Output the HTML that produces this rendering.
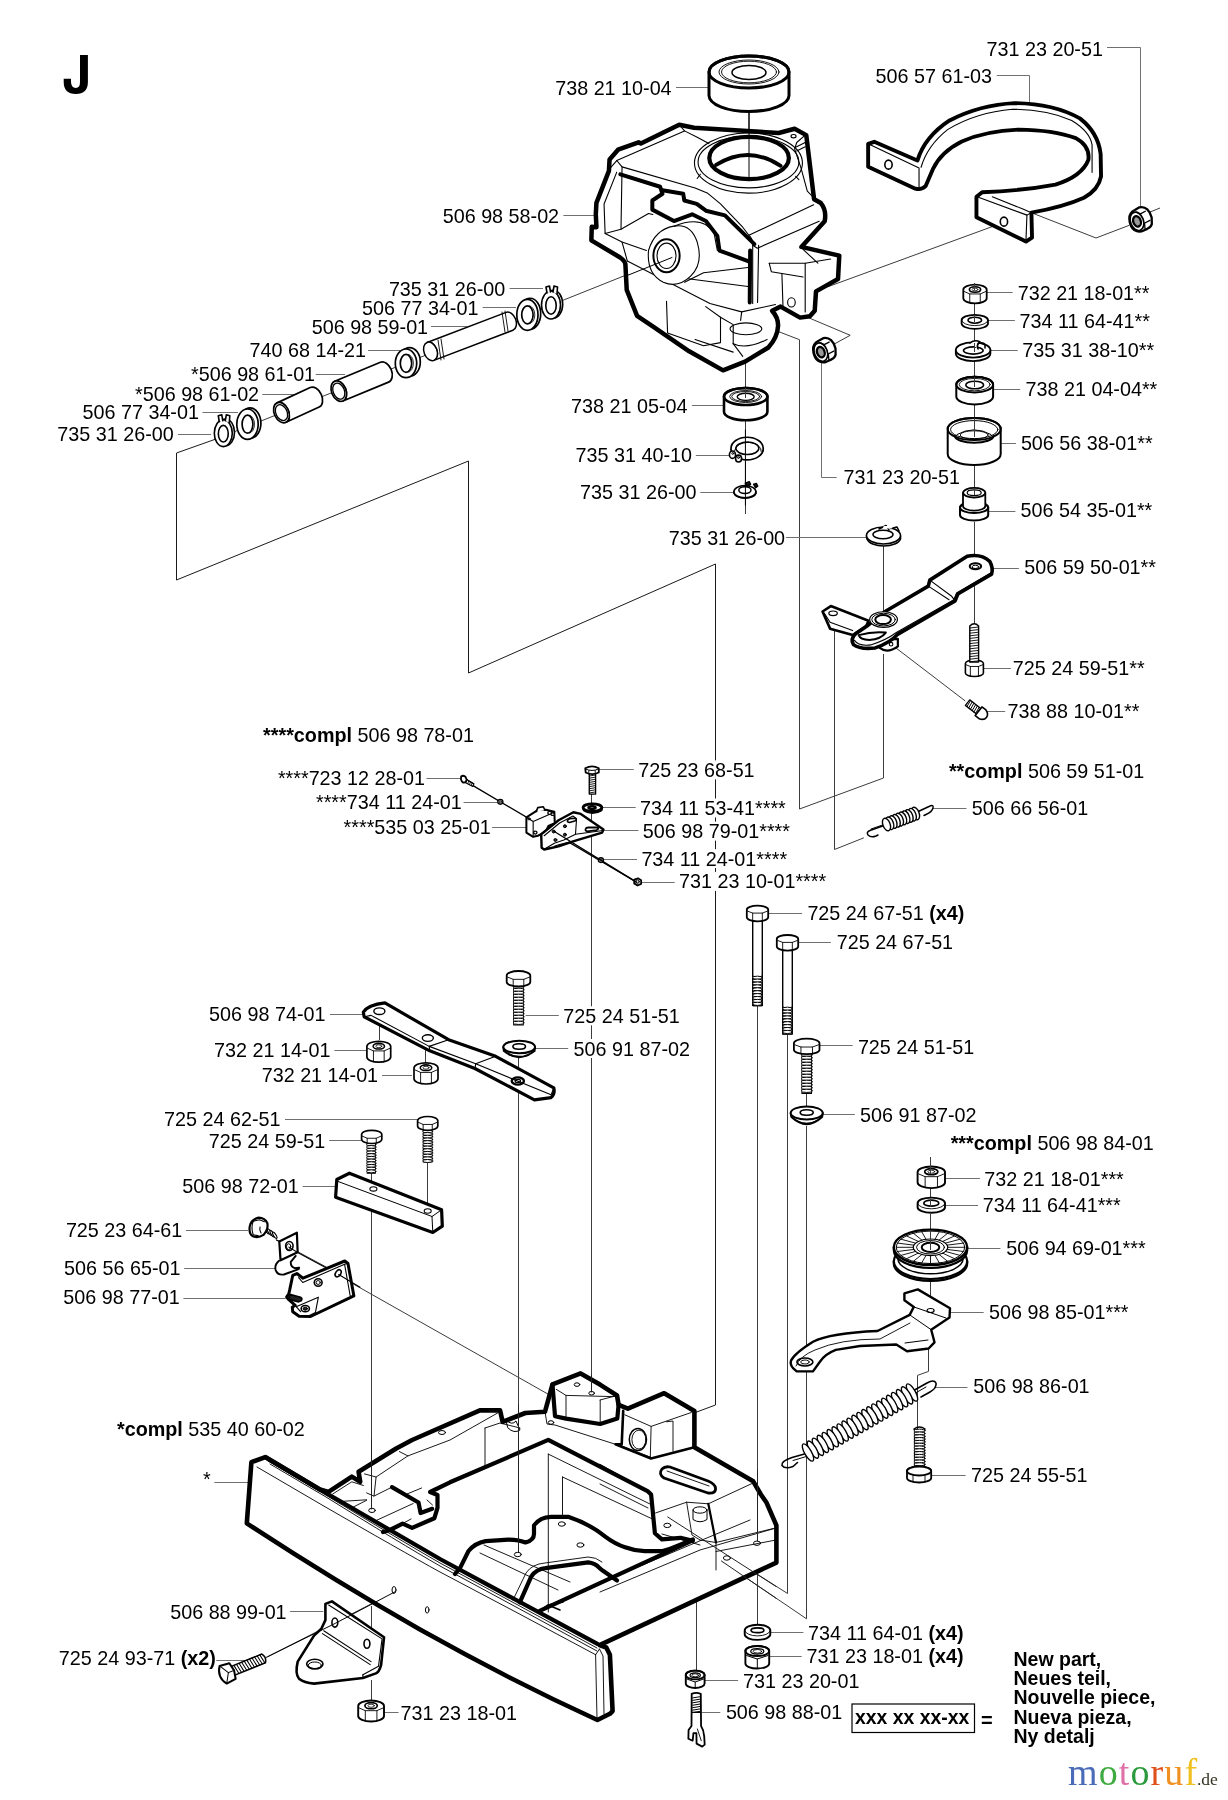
<!DOCTYPE html>
<html><head><meta charset="utf-8"><style>
html,body{margin:0;padding:0;background:#fff;}
svg{display:block;will-change:transform;}
text{font-family:"Liberation Sans",sans-serif;fill:#000;}
</style></head><body>
<svg width="1228" height="1800" viewBox="0 0 1228 1800">
<rect width="1228" height="1800" fill="#fff"/>

<g fill="none" stroke="#3c3c3c" stroke-width="1">
<polyline points="276.0,1240.0 328.0,1268.0"/>
<polyline points="670.0,257.5 216.0,439.0"/>
<polyline points="216.0,439.0 176.5,453.0 176.5,580.0 468.5,461.0 468.5,673.0 715.5,564.0 715.5,1405.0 694.0,1413.0" stroke="#1a1a1a"/>
<polyline points="755.7,322.8 799.5,339.7 799.5,809.0 883.5,778.0 883.5,654.0"/>
<polyline points="883.5,545.0 883.5,613.0"/>
<polyline points="808.5,317.7 850.2,335.3 834.1,344.1"/>
<polyline points="827.5,286.9 1004.3,222.2"/>
<polyline points="1029.6,212.0 1096.0,238.0 1129.0,225.4"/>
<polyline points="1150.0,212.0 1160.0,208.0"/>
<polyline points="745.5,363.0 745.5,388.0"/>
<polyline points="745.5,420.0 745.5,438.0"/>
<polyline points="745.5,462.0 745.5,481.0"/>
<polyline points="745.5,498.0 745.5,514.0"/>
<polyline points="974.5,303.0 974.5,315.0"/>
<polyline points="974.5,328.0 974.5,342.0"/>
<polyline points="974.5,360.0 974.5,377.0"/>
<polyline points="974.5,405.0 974.5,420.0"/>
<polyline points="974.5,465.0 974.5,489.0"/>
<polyline points="974.5,522.0 974.5,560.0"/>
<polyline points="974.5,578.0 974.5,624.0"/>
<polyline points="834.5,628.3 834.5,849.5 863.9,837.8"/>
<polyline points="892.6,645.4 965.3,701.0"/>
<polyline points="591.5,794.0 591.5,803.0"/>
<polyline points="591.5,813.0 591.5,1393.0"/>
<polyline points="757.5,1005.0 757.5,1625.0"/>
<polyline points="787.5,1035.0 787.5,1593.5 667.7,1517.0"/>
<polyline points="806.5,1093.0 806.5,1106.0"/>
<polyline points="806.5,1126.0 806.5,1618.8 721.4,1561.0"/>
<polyline points="930.5,1157.0 930.5,1166.0"/>
<polyline points="930.5,1188.0 930.5,1197.0"/>
<polyline points="930.5,1214.0 930.5,1230.0"/>
<polyline points="930.5,1280.0 930.5,1300.0"/>
<polyline points="928.5,1348.0 928.5,1371.4 917.5,1375.4 917.5,1429.0"/>
<polyline points="518.5,1058.0 518.5,1075.0"/>
<polyline points="518.5,1088.0 518.5,1554.0"/>
<polyline points="371.5,1173.0 371.5,1186.0"/>
<polyline points="371.5,1200.0 371.5,1509.0"/>
<polyline points="371.5,1606.0 371.5,1628.0"/>
<polyline points="371.5,1680.0 371.5,1700.0"/>
<polyline points="267.6,1656.8 395.4,1591.6"/>
<polyline points="427.5,1162.0 427.5,1206.0"/>
<polyline points="353.0,1283.8 551.7,1396.2"/>
<polyline points="696.5,1601.7 696.5,1670.0"/>
<polyline points="379.5,1020.0 379.5,1040.0"/>
<polyline points="425.5,1045.0 425.5,1063.0"/>
</g>
<g fill="none" stroke="#707070" stroke-width="1">
<polyline points="676.0,87.5 708.5,87.5"/>
<polyline points="1107.0,47.5 1140.5,47.5 1140.5,208.0"/>
<polyline points="996.8,75.5 1029.5,75.5 1029.5,102.0"/>
<polyline points="563.4,215.5 594.4,215.5"/>
<polyline points="509.6,288.5 543.0,288.5"/>
<polyline points="482.7,307.5 516.0,307.5"/>
<polyline points="431.0,326.5 467.5,326.5"/>
<polyline points="368.0,350.5 400.0,350.5"/>
<polyline points="315.3,374.5 345.0,374.5"/>
<polyline points="262.3,394.5 294.0,394.5"/>
<polyline points="202.5,412.5 238.0,412.5"/>
<polyline points="178.0,434.5 211.0,434.5"/>
<polyline points="691.9,405.5 724.0,405.5"/>
<polyline points="695.8,455.5 730.0,455.5"/>
<polyline points="700.3,492.5 734.0,492.5"/>
<polyline points="786.0,537.5 867.6,537.5"/>
<polyline points="821.5,362.0 821.5,477.5 836.7,477.5"/>
<polyline points="986.8,292.5 1012.7,292.5"/>
<polyline points="987.8,320.5 1014.9,320.5"/>
<polyline points="990.6,350.5 1017.7,350.5"/>
<polyline points="993.4,389.5 1020.2,389.5"/>
<polyline points="1001.3,443.5 1016.0,443.5"/>
<polyline points="988.6,511.5 1015.4,511.5"/>
<polyline points="992.5,568.5 1018.9,568.5"/>
<polyline points="983.3,668.5 1010.9,668.5"/>
<polyline points="986.7,711.5 1005.2,711.5"/>
<polyline points="426.5,778.5 461.3,778.5"/>
<polyline points="463.6,802.5 497.8,802.5"/>
<polyline points="492.1,827.5 526.3,827.5"/>
<polyline points="599.4,769.5 633.8,769.5"/>
<polyline points="602.1,807.5 635.7,807.5"/>
<polyline points="603.5,830.5 638.4,830.5"/>
<polyline points="603.5,859.5 637.0,859.5"/>
<polyline points="641.1,882.5 674.7,882.5"/>
<polyline points="933.2,808.5 966.5,808.5"/>
<polyline points="768.3,913.5 802.1,913.5"/>
<polyline points="798.2,942.5 830.9,942.5"/>
<polyline points="330.0,1014.5 362.9,1014.5"/>
<polyline points="334.4,1050.5 366.9,1050.5"/>
<polyline points="382.0,1075.5 412.0,1075.5"/>
<polyline points="525.6,1015.5 558.8,1015.5"/>
<polyline points="535.0,1048.5 568.2,1048.5"/>
<polyline points="819.6,1045.5 852.7,1045.5"/>
<polyline points="822.7,1114.5 854.9,1114.5"/>
<polyline points="285.0,1119.5 419.6,1119.5"/>
<polyline points="329.2,1140.5 361.6,1140.5"/>
<polyline points="302.7,1186.5 335.6,1186.5"/>
<polyline points="945.0,1178.5 979.9,1178.5"/>
<polyline points="945.0,1205.5 978.0,1205.5"/>
<polyline points="966.6,1248.5 1000.4,1248.5"/>
<polyline points="951.1,1312.5 983.7,1312.5"/>
<polyline points="186.0,1230.5 248.0,1230.5"/>
<polyline points="184.2,1268.5 276.7,1268.5"/>
<polyline points="183.4,1298.5 285.8,1298.5"/>
<polyline points="934.5,1387.5 967.5,1387.5"/>
<polyline points="931.2,1475.5 965.6,1475.5"/>
<polyline points="214.3,1482.5 248.5,1482.5"/>
<polyline points="290.1,1611.5 323.3,1611.5"/>
<polyline points="215.7,1660.5 245.4,1660.5"/>
<polyline points="384.0,1712.5 398.6,1712.5"/>
<polyline points="770.4,1632.5 803.4,1632.5"/>
<polyline points="769.2,1656.5 801.7,1656.5"/>
<polyline points="704.4,1680.5 738.1,1680.5"/>
<polyline points="702.0,1712.5 720.3,1712.5"/>
</g>
<path d="M 749.00,112.00 L 749.00,176.00" fill="none" stroke="#000" stroke-width="1.0" stroke-linejoin="round" stroke-linecap="round"/>
<path d="M 709.00,72.00 L 709.00,95.50 A 40.00,16.00 0 0 0 789.00,95.50 L 789.00,72.00 A 40.00,16.00 0 0 0 709.00,72.00 Z" fill="#fff" stroke="#000" stroke-width="3.0" stroke-linejoin="round" stroke-linecap="round"/><ellipse cx="749.00" cy="72.00" rx="40.00" ry="16.00" fill="none" stroke="#000" stroke-width="3.0" stroke-linejoin="round" stroke-linecap="round"/>
<ellipse cx="749.00" cy="72.00" rx="30.00" ry="12.00" fill="none" stroke="#000" stroke-width="0.9" stroke-linejoin="round" stroke-linecap="round"/><ellipse cx="749.00" cy="72.00" rx="27.50" ry="10.80" fill="none" stroke="#000" stroke-width="0.9" stroke-linejoin="round" stroke-linecap="round"/><ellipse cx="749.00" cy="72.50" rx="17.00" ry="7.00" fill="none" stroke="#000" stroke-width="1.5" stroke-linejoin="round" stroke-linecap="round"/>
<g transform="translate(585,115) scale(0.211726)"><path d="M 445,46 L 264,135 L 253,129 L 156,164 L 116,210 L 113,264 L 54,415 L 51,468 L 54,530 L 32,528 L 30,592 L 166,673 Q 191,690 191,709 L 197,826 L 246,949 L 320,998 L 492,1116 L 652,1206 L 756,1165 L 866,1098 Q 910,1050 912,994 Q 912,955 884,925 L 924,905 L 1016,957 L 1062,951 L 1085,925 L 1091,833 L 1195,775 L 1201,664 L 1022,623 L 1132,502 Q 1142,450 1114,416 L 1082,398 L 1045,95 L 990,65 L 915,85 L 515,60 Z" fill="#fff" stroke="#000" stroke-width="4.5" stroke-linejoin="round" stroke-linecap="round" vector-effect="non-scaling-stroke"/><path d="M 445,46 L 470,75 L 150,215 L 120,250" fill="none" stroke="#000" stroke-width="1.1" stroke-linejoin="round" stroke-linecap="round" vector-effect="non-scaling-stroke"/><path d="M 470,75 L 530,105 L 585,135" fill="none" stroke="#000" stroke-width="1.1" stroke-linejoin="round" stroke-linecap="round" vector-effect="non-scaling-stroke"/><path d="M 150,215 L 175,245 L 520,345 L 580,370 L 640,420 L 745,530 L 774,568 Q 792,585 792,610 L 792,890" fill="none" stroke="#000" stroke-width="1.1" stroke-linejoin="round" stroke-linecap="round" vector-effect="non-scaling-stroke"/><path d="M 175,245 L 170,540 L 95,560 L 90,420 L 150,270" fill="none" stroke="#000" stroke-width="1.1" stroke-linejoin="round" stroke-linecap="round" vector-effect="non-scaling-stroke"/><path d="M 170,540 L 300,465 L 320,470" fill="none" stroke="#000" stroke-width="1.1" stroke-linejoin="round" stroke-linecap="round" vector-effect="non-scaling-stroke"/><path d="M 95,560 L 175,600 L 290,640" fill="none" stroke="#000" stroke-width="1.1" stroke-linejoin="round" stroke-linecap="round" vector-effect="non-scaling-stroke"/><path d="M 175,600 L 200,690" fill="none" stroke="#000" stroke-width="1.1" stroke-linejoin="round" stroke-linecap="round" vector-effect="non-scaling-stroke"/><path d="M 774,568 L 1080,424" fill="none" stroke="#000" stroke-width="1.1" stroke-linejoin="round" stroke-linecap="round" vector-effect="non-scaling-stroke"/><path d="M 1040,95 L 1000,130 L 990,160 L 1020,250 L 1050,360 L 1080,390" fill="none" stroke="#000" stroke-width="1.1" stroke-linejoin="round" stroke-linecap="round" vector-effect="non-scaling-stroke"/><path d="M 990,155 L 1040,130 M 1000,170 L 1040,150" fill="none" stroke="#000" stroke-width="1.1" stroke-linejoin="round" stroke-linecap="round" vector-effect="non-scaling-stroke"/><path d="M 792,615 L 814,629 L 1106,502" fill="none" stroke="#000" stroke-width="1.1" stroke-linejoin="round" stroke-linecap="round" vector-effect="non-scaling-stroke"/><path d="M 820,615 L 815,885" fill="none" stroke="#000" stroke-width="1.1" stroke-linejoin="round" stroke-linecap="round" vector-effect="non-scaling-stroke"/><path d="M 470,790 L 560,745 L 770,720" fill="none" stroke="#000" stroke-width="1.1" stroke-linejoin="round" stroke-linecap="round" vector-effect="non-scaling-stroke"/><path d="M 460,770 L 770,810" fill="none" stroke="#000" stroke-width="1.1" stroke-linejoin="round" stroke-linecap="round" vector-effect="non-scaling-stroke"/><path d="M 200,690 L 590,890 L 740,930 L 900,895" fill="none" stroke="#000" stroke-width="1.1" stroke-linejoin="round" stroke-linecap="round" vector-effect="non-scaling-stroke"/><path d="M 740,930 L 735,970" fill="none" stroke="#000" stroke-width="1.1" stroke-linejoin="round" stroke-linecap="round" vector-effect="non-scaling-stroke"/><path d="M 870,700 L 1040,700 L 1040,930" fill="none" stroke="#000" stroke-width="1.1" stroke-linejoin="round" stroke-linecap="round" vector-effect="non-scaling-stroke"/><path d="M 870,700 L 880,740 L 1030,765" fill="none" stroke="#000" stroke-width="1.1" stroke-linejoin="round" stroke-linecap="round" vector-effect="non-scaling-stroke"/><path d="M 930,750 L 935,900" fill="none" stroke="#000" stroke-width="1.1" stroke-linejoin="round" stroke-linecap="round" vector-effect="non-scaling-stroke"/><path d="M 1040,700 L 1160,680" fill="none" stroke="#000" stroke-width="1.1" stroke-linejoin="round" stroke-linecap="round" vector-effect="non-scaling-stroke"/><path d="M 1030,635 L 1100,700" fill="none" stroke="#000" stroke-width="1.1" stroke-linejoin="round" stroke-linecap="round" vector-effect="non-scaling-stroke"/><path d="M 385,880 L 390,1030 L 560,1090 L 640,1075 L 640,955 L 570,905" fill="none" stroke="#000" stroke-width="1.1" stroke-linejoin="round" stroke-linecap="round" vector-effect="non-scaling-stroke"/><path d="M 640,955 L 700,990 L 700,1080" fill="none" stroke="#000" stroke-width="1.1" stroke-linejoin="round" stroke-linecap="round" vector-effect="non-scaling-stroke"/><path d="M 700,1080 L 745,1140" fill="none" stroke="#000" stroke-width="1.1" stroke-linejoin="round" stroke-linecap="round" vector-effect="non-scaling-stroke"/><path d="M 520,1060 L 700,1120" fill="none" stroke="#000" stroke-width="1.1" stroke-linejoin="round" stroke-linecap="round" vector-effect="non-scaling-stroke"/><path d="M 167,280 L 355,339 L 366,372 L 318,404 L 318,447 L 420,501 L 506,469 L 571,501 L 625,571 L 635,640 L 770,690" fill="none" stroke="#000" stroke-width="4.0" stroke-linejoin="round" stroke-linecap="round" vector-effect="non-scaling-stroke"/><path d="M 366,355 L 464,372 L 469,404 L 528,420 L 571,452 L 661,474 L 800,610" fill="none" stroke="#000" stroke-width="4.0" stroke-linejoin="round" stroke-linecap="round" vector-effect="non-scaling-stroke"/><path d="M 780,640 L 778,885" fill="none" stroke="#000" stroke-width="4.0" stroke-linejoin="round" stroke-linecap="round" vector-effect="non-scaling-stroke"/><ellipse cx="772" cy="227" rx="255" ry="142" fill="none" stroke="#000" stroke-width="1.1" stroke-linejoin="round" stroke-linecap="round" vector-effect="non-scaling-stroke"/><ellipse cx="772" cy="222" rx="238" ry="122" fill="none" stroke="#000" stroke-width="1.1" stroke-linejoin="round" stroke-linecap="round" vector-effect="non-scaling-stroke"/><path d="M 545,280 L 530,300 M 995,290 L 1010,305" fill="none" stroke="#000" stroke-width="1.1" stroke-linejoin="round" stroke-linecap="round" vector-effect="non-scaling-stroke"/><ellipse cx="775" cy="203" rx="188" ry="100" fill="none" stroke="#000" stroke-width="4.2" stroke-linejoin="round" stroke-linecap="round" vector-effect="non-scaling-stroke"/><path d="M 619,236 Q 772,140 924,240" fill="none" stroke="#000" stroke-width="3.8" stroke-linejoin="round" stroke-linecap="round" vector-effect="non-scaling-stroke"/><ellipse cx="985" cy="100" rx="12" ry="8" fill="none" stroke="#000" stroke-width="1.1" stroke-linejoin="round" stroke-linecap="round" vector-effect="non-scaling-stroke"/><path d="M 300,640 Q 330,540 420,525 Q 500,510 530,600 Q 560,700 500,760 Q 440,820 370,790 Q 290,750 300,640 Z" fill="#fff" stroke="#000" stroke-width="1.1" stroke-linejoin="round" stroke-linecap="round" vector-effect="non-scaling-stroke"/><ellipse cx="385" cy="665" rx="62" ry="78" fill="none" stroke="#000" stroke-width="2.0" stroke-linejoin="round" stroke-linecap="round" vector-effect="non-scaling-stroke"/><ellipse cx="385" cy="665" rx="45" ry="60" fill="none" stroke="#000" stroke-width="1.1" stroke-linejoin="round" stroke-linecap="round" vector-effect="non-scaling-stroke"/><path d="M 420,525 Q 560,470 610,560 L 625,640" fill="none" stroke="#000" stroke-width="1.1" stroke-linejoin="round" stroke-linecap="round" vector-effect="non-scaling-stroke"/><ellipse cx="760" cy="1010" rx="75" ry="28" fill="none" stroke="#000" stroke-width="1.1" stroke-linejoin="round" stroke-linecap="round" vector-effect="non-scaling-stroke"/><path d="M 700,1080 Q 760,1110 860,1060" fill="none" stroke="#000" stroke-width="1.1" stroke-linejoin="round" stroke-linecap="round" vector-effect="non-scaling-stroke"/><ellipse cx="975" cy="885" rx="18" ry="22" fill="none" stroke="#000" stroke-width="1.1" stroke-linejoin="round" stroke-linecap="round" vector-effect="non-scaling-stroke"/></g>
<path d="M 749.00,113.00 L 749.00,177.00" fill="none" stroke="#000" stroke-width="1.0" stroke-linejoin="round" stroke-linecap="round"/>
<path d="M 626.00,276.00 L 672.00,257.50" fill="none" stroke="#000" stroke-width="1.0" stroke-linejoin="round" stroke-linecap="round"/>
<g transform="translate(860,95) scale(0.203583)"><path d="M 40,240 L 70,230 L 282,322 Q 318,205 440,125 Q 590,48 760,40 Q 950,42 1080,115 Q 1170,185 1182,290 L 1184,400 Q 1172,465 1100,505 Q 1000,550 842,578 L 845,700 L 815,720 L 572,600 L 572,500 L 600,478 Q 800,470 960,440 Q 1090,400 1122,318 Q 1130,250 1060,212 Q 950,172 780,170 Q 620,176 500,228 Q 400,278 360,360 L 322,448 Q 302,468 272,460 L 40,352 Z" fill="#fff" stroke="#000" stroke-width="3.9" stroke-linejoin="round" stroke-linecap="round" vector-effect="non-scaling-stroke"/><path d="M 300,355 Q 330,250 430,170 Q 570,85 750,70 Q 920,72 1040,125 Q 1130,180 1140,245 L 1140,380" fill="none" stroke="#000" stroke-width="1.1" stroke-linejoin="round" stroke-linecap="round" vector-effect="non-scaling-stroke"/><path d="M 40,240 L 290,358 L 290,458" fill="none" stroke="#000" stroke-width="1.1" stroke-linejoin="round" stroke-linecap="round" vector-effect="non-scaling-stroke"/><path d="M 575,500 L 820,590 L 842,578" fill="none" stroke="#000" stroke-width="1.1" stroke-linejoin="round" stroke-linecap="round" vector-effect="non-scaling-stroke"/><path d="M 820,590 L 815,720" fill="none" stroke="#000" stroke-width="1.1" stroke-linejoin="round" stroke-linecap="round" vector-effect="non-scaling-stroke"/><path d="M 650,500 L 800,560 L 842,578" fill="none" stroke="#000" stroke-width="1.1" stroke-linejoin="round" stroke-linecap="round" vector-effect="non-scaling-stroke"/><ellipse cx="140" cy="342" rx="18" ry="22" fill="none" stroke="#000" stroke-width="1.6" stroke-linejoin="round" stroke-linecap="round" vector-effect="non-scaling-stroke"/><ellipse cx="707" cy="622" rx="18" ry="22" fill="none" stroke="#000" stroke-width="1.6" stroke-linejoin="round" stroke-linecap="round" vector-effect="non-scaling-stroke"/></g>
<g transform="translate(1121.2,199.2) scale(0.032573)"><path d="M 250,600 Q 240,420 420,330 L 560,250 Q 700,220 800,310 Q 900,400 935,560 L 940,760 Q 920,850 800,910 L 620,990 Q 450,1010 350,900 Q 260,790 250,600 Z" fill="#fff" stroke="#000" stroke-width="2.3" stroke-linejoin="round" stroke-linecap="round" vector-effect="non-scaling-stroke"/><ellipse cx="485" cy="680" rx="200" ry="290" transform="rotate(-20 485 680)" fill="none" stroke="#000" stroke-width="1.7" stroke-linejoin="round" stroke-linecap="round" vector-effect="non-scaling-stroke"/><ellipse cx="485" cy="680" rx="115" ry="165" transform="rotate(-20 485 680)" fill="#9a9a9a" stroke="#000" stroke-width="2.3" stroke-linejoin="round" stroke-linecap="round" vector-effect="non-scaling-stroke"/><path d="M 460,395 L 590,450 L 740,370 M 700,745 L 880,650 M 720,760 L 730,900" fill="none" stroke="#000" stroke-width="1.3" stroke-linejoin="round" stroke-linecap="round" vector-effect="non-scaling-stroke"/></g>
<g transform="translate(805,330) scale(0.032573)"><path d="M 250,600 Q 240,420 420,330 L 560,250 Q 700,220 800,310 Q 900,400 935,560 L 940,760 Q 920,850 800,910 L 620,990 Q 450,1010 350,900 Q 260,790 250,600 Z" fill="#fff" stroke="#000" stroke-width="2.3" stroke-linejoin="round" stroke-linecap="round" vector-effect="non-scaling-stroke"/><ellipse cx="485" cy="680" rx="200" ry="290" transform="rotate(-20 485 680)" fill="none" stroke="#000" stroke-width="1.7" stroke-linejoin="round" stroke-linecap="round" vector-effect="non-scaling-stroke"/><ellipse cx="485" cy="680" rx="115" ry="165" transform="rotate(-20 485 680)" fill="#9a9a9a" stroke="#000" stroke-width="2.3" stroke-linejoin="round" stroke-linecap="round" vector-effect="non-scaling-stroke"/><path d="M 460,395 L 590,450 L 740,370 M 700,745 L 880,650 M 720,760 L 730,900" fill="none" stroke="#000" stroke-width="1.3" stroke-linejoin="round" stroke-linecap="round" vector-effect="non-scaling-stroke"/></g>
<ellipse cx="553.20" cy="304.20" rx="9.50" ry="14.00" fill="#fff" stroke="#000" stroke-width="1.6" stroke-linejoin="round" stroke-linecap="round"/><ellipse cx="551.00" cy="305.00" rx="9.50" ry="14.00" fill="#fff" stroke="#000" stroke-width="1.6" stroke-linejoin="round" stroke-linecap="round"/><ellipse cx="551.00" cy="305.50" rx="5.23" ry="8.68" fill="none" stroke="#000" stroke-width="1.6" stroke-linejoin="round" stroke-linecap="round"/><path d="M 547.0,293.0 L 546.0,287.0 L 549.5,286.0 L 550.5,292.0" fill="#fff" stroke="#000" stroke-width="1.6" stroke-linejoin="round" stroke-linecap="round"/><path d="M 553.0,292.0 L 554.0,286.0 L 557.5,287.0 L 557.0,294.0" fill="#fff" stroke="#000" stroke-width="1.6" stroke-linejoin="round" stroke-linecap="round"/>
<ellipse cx="530.10" cy="313.75" rx="10.60" ry="15.50" fill="#fff" stroke="#000" stroke-width="1.7" stroke-linejoin="round" stroke-linecap="round"/><ellipse cx="527.40" cy="314.80" rx="10.60" ry="15.50" fill="#fff" stroke="#000" stroke-width="1.7" stroke-linejoin="round" stroke-linecap="round"/><ellipse cx="527.40" cy="314.80" rx="5.70" ry="9.00" fill="#fff" stroke="#000" stroke-width="1.7" stroke-linejoin="round" stroke-linecap="round"/><path d="M 529.11,305.80 A 5.7,9 0 0 1 529.11,323.80" fill="none" stroke="#000" stroke-width="0.8" stroke-linejoin="round" stroke-linecap="round"/>
<path d="M 433.92,360.37 L 512.92,330.27 A 6.5,9.6 -20.86 0 0 506.08,312.33 L 427.08,342.43 A 6.5,9.6 -20.86 0 1 433.92,360.37 Z" fill="#fff" stroke="#000" stroke-width="1.5" stroke-linejoin="round" stroke-linecap="round"/><ellipse cx="430.50" cy="351.40" rx="6.50" ry="9.60" fill="#fff" stroke="#000" stroke-width="1.5" stroke-linejoin="round" stroke-linecap="round" transform="rotate(-20.857473924379892 430.5 351.4)"/>
<path d="M 438.00,340.00 L 441.00,360.00" fill="none" stroke="#000" stroke-width="0.9" stroke-linejoin="round" stroke-linecap="round"/><path d="M 441.00,339.00 L 444.00,359.00" fill="none" stroke="#000" stroke-width="0.9" stroke-linejoin="round" stroke-linecap="round"/>
<path d="M 502.00,312.00 L 505.00,332.00" fill="none" stroke="#000" stroke-width="0.9" stroke-linejoin="round" stroke-linecap="round"/><path d="M 505.00,311.00 L 508.00,331.00" fill="none" stroke="#000" stroke-width="0.9" stroke-linejoin="round" stroke-linecap="round"/>
<ellipse cx="409.60" cy="361.90" rx="10.70" ry="14.30" fill="#fff" stroke="#000" stroke-width="1.7" stroke-linejoin="round" stroke-linecap="round"/><ellipse cx="406.00" cy="363.30" rx="10.70" ry="14.30" fill="#fff" stroke="#000" stroke-width="1.7" stroke-linejoin="round" stroke-linecap="round"/><ellipse cx="406.00" cy="363.30" rx="5.70" ry="9.00" fill="#fff" stroke="#000" stroke-width="1.7" stroke-linejoin="round" stroke-linecap="round"/><path d="M 407.71,354.30 A 5.7,9 0 0 1 407.71,372.30" fill="none" stroke="#000" stroke-width="0.8" stroke-linejoin="round" stroke-linecap="round"/>
<path d="M 342.89,400.99 L 388.59,382.09 A 7.2,10.7 -22.47 0 0 380.41,362.31 L 334.71,381.21 A 7.2,10.7 -22.47 0 1 342.89,400.99 Z" fill="#fff" stroke="#000" stroke-width="1.7" stroke-linejoin="round" stroke-linecap="round"/><ellipse cx="338.80" cy="391.10" rx="7.20" ry="10.70" fill="#fff" stroke="#000" stroke-width="1.7" stroke-linejoin="round" stroke-linecap="round" transform="rotate(-22.46835989569225 338.8 391.1)"/><ellipse cx="338.80" cy="391.10" rx="5.62" ry="8.35" fill="none" stroke="#000" stroke-width="1.36" stroke-linejoin="round" stroke-linecap="round" transform="rotate(-22.46835989569225 338.8 391.1)"/>
<path d="M 285.98,422.32 L 319.18,407.02 A 7.2,10.7 -24.74 0 0 310.22,387.58 L 277.02,402.88 A 7.2,10.7 -24.74 0 1 285.98,422.32 Z" fill="#fff" stroke="#000" stroke-width="1.7" stroke-linejoin="round" stroke-linecap="round"/><ellipse cx="281.50" cy="412.60" rx="7.20" ry="10.70" fill="#fff" stroke="#000" stroke-width="1.7" stroke-linejoin="round" stroke-linecap="round" transform="rotate(-24.74230004156487 281.5 412.6)"/><ellipse cx="281.50" cy="412.60" rx="5.62" ry="8.35" fill="none" stroke="#000" stroke-width="1.36" stroke-linejoin="round" stroke-linecap="round" transform="rotate(-24.74230004156487 281.5 412.6)"/>
<ellipse cx="250.20" cy="423.15" rx="10.70" ry="15.20" fill="#fff" stroke="#000" stroke-width="1.7" stroke-linejoin="round" stroke-linecap="round"/><ellipse cx="247.50" cy="424.20" rx="10.70" ry="15.20" fill="#fff" stroke="#000" stroke-width="1.7" stroke-linejoin="round" stroke-linecap="round"/><ellipse cx="247.50" cy="424.20" rx="5.40" ry="9.00" fill="#fff" stroke="#000" stroke-width="1.7" stroke-linejoin="round" stroke-linecap="round"/><path d="M 249.12,415.20 A 5.4,9 0 0 1 249.12,433.20" fill="none" stroke="#000" stroke-width="0.8" stroke-linejoin="round" stroke-linecap="round"/>
<ellipse cx="225.50" cy="432.40" rx="9.00" ry="13.40" fill="#fff" stroke="#000" stroke-width="1.6" stroke-linejoin="round" stroke-linecap="round"/><ellipse cx="223.30" cy="433.20" rx="9.00" ry="13.40" fill="#fff" stroke="#000" stroke-width="1.6" stroke-linejoin="round" stroke-linecap="round"/><ellipse cx="223.30" cy="433.70" rx="4.95" ry="8.31" fill="none" stroke="#000" stroke-width="1.6" stroke-linejoin="round" stroke-linecap="round"/><path d="M 219.3,421.8 L 218.3,415.8 L 221.8,414.8 L 222.8,420.8" fill="#fff" stroke="#000" stroke-width="1.6" stroke-linejoin="round" stroke-linecap="round"/><path d="M 225.3,420.8 L 226.3,414.8 L 229.8,415.8 L 229.3,422.8" fill="#fff" stroke="#000" stroke-width="1.6" stroke-linejoin="round" stroke-linecap="round"/>
<path d="M 724.00,396.50 L 724.00,411.80 A 21.70,8.50 0 0 0 767.40,411.80 L 767.40,396.50 A 21.70,8.50 0 0 0 724.00,396.50 Z" fill="#fff" stroke="#000" stroke-width="2.6" stroke-linejoin="round" stroke-linecap="round"/><ellipse cx="745.70" cy="396.50" rx="21.70" ry="8.50" fill="none" stroke="#000" stroke-width="2.6" stroke-linejoin="round" stroke-linecap="round"/>
<ellipse cx="745.70" cy="396.50" rx="16.00" ry="6.00" fill="none" stroke="#000" stroke-width="0.9" stroke-linejoin="round" stroke-linecap="round"/><ellipse cx="745.70" cy="396.50" rx="14.00" ry="5.00" fill="none" stroke="#000" stroke-width="0.9" stroke-linejoin="round" stroke-linecap="round"/><ellipse cx="745.70" cy="396.80" rx="8.50" ry="3.60" fill="none" stroke="#000" stroke-width="1.4" stroke-linejoin="round" stroke-linecap="round"/>
<g transform="translate(720,430) scale(0.048860)"><path d="M 230,400 A 330,220 0 0 0 880,420 L 885,400 A 330,232 0 0 0 230,400 Z" fill="#fff" stroke="#000" stroke-width="1.7" stroke-linejoin="round" stroke-linecap="round" vector-effect="non-scaling-stroke"/><ellipse cx="555" cy="380" rx="330" ry="232" fill="#fff" stroke="#000" stroke-width="1.7" stroke-linejoin="round" stroke-linecap="round" vector-effect="non-scaling-stroke"/><ellipse cx="560" cy="375" rx="235" ry="128" fill="#fff" stroke="#000" stroke-width="1.5" stroke-linejoin="round" stroke-linecap="round" vector-effect="non-scaling-stroke"/><path d="M 300,420 A 262,170 0 0 1 845,440" fill="none" stroke="#000" stroke-width="1.0" stroke-linejoin="round" stroke-linecap="round" vector-effect="non-scaling-stroke"/><ellipse cx="255" cy="505" rx="62" ry="75" fill="#fff" stroke="#000" stroke-width="1.6" stroke-linejoin="round" stroke-linecap="round" vector-effect="non-scaling-stroke"/><ellipse cx="380" cy="585" rx="62" ry="70" fill="#fff" stroke="#000" stroke-width="1.6" stroke-linejoin="round" stroke-linecap="round" vector-effect="non-scaling-stroke"/><ellipse cx="262" cy="480" rx="20" ry="18" fill="none" stroke="#000" stroke-width="1.0" stroke-linejoin="round" stroke-linecap="round" vector-effect="non-scaling-stroke"/><ellipse cx="378" cy="565" rx="20" ry="18" fill="none" stroke="#000" stroke-width="1.0" stroke-linejoin="round" stroke-linecap="round" vector-effect="non-scaling-stroke"/><path d="M 520,0 L 520,1050" fill="none" stroke="#000" stroke-width="1.0" stroke-linejoin="round" stroke-linecap="round" vector-effect="non-scaling-stroke"/><path d="M 285,1265 L 290,1300 A 225,110 0 0 0 735,1300 L 735,1265" fill="#fff" stroke="#000" stroke-width="1.6" stroke-linejoin="round" stroke-linecap="round" vector-effect="non-scaling-stroke"/><ellipse cx="510" cy="1262" rx="225" ry="125" fill="#fff" stroke="#000" stroke-width="1.6" stroke-linejoin="round" stroke-linecap="round" vector-effect="non-scaling-stroke"/><ellipse cx="510" cy="1230" rx="125" ry="70" fill="#fff" stroke="#000" stroke-width="1.5" stroke-linejoin="round" stroke-linecap="round" vector-effect="non-scaling-stroke"/><path d="M 520,1090 L 600,1060 L 625,1110 L 560,1150 Z" fill="#222" stroke="#000" stroke-width="1.6" stroke-linejoin="round" stroke-linecap="round" vector-effect="non-scaling-stroke"/><path d="M 690,1110 L 745,1095 L 770,1150 L 730,1180 Z" fill="#222" stroke="#000" stroke-width="1.6" stroke-linejoin="round" stroke-linecap="round" vector-effect="non-scaling-stroke"/><path d="M 520,1050 L 520,1535" fill="none" stroke="#000" stroke-width="1.0" stroke-linejoin="round" stroke-linecap="round" vector-effect="non-scaling-stroke"/></g>
<path d="M 866.5,536 L 867,539 A 17,8.5 0 0 0 900.5,539 L 900.5,536" fill="#fff" stroke="#000" stroke-width="1.6" stroke-linejoin="round" stroke-linecap="round"/>
<ellipse cx="883.50" cy="535.50" rx="17.00" ry="8.50" fill="#fff" stroke="#000" stroke-width="1.6" stroke-linejoin="round" stroke-linecap="round"/>
<ellipse cx="883.00" cy="534.50" rx="10.00" ry="4.20" fill="#fff" stroke="#000" stroke-width="1.5" stroke-linejoin="round" stroke-linecap="round"/>
<path d="M 879,529 L 886,525.5 L 889,530 M 891,528.5 L 897,527 L 899,531" fill="none" stroke="#000" stroke-width="1.6" stroke-linejoin="round" stroke-linecap="round"/>
<path d="M 884.5,527.2 L 891,527.2" fill="none" stroke="#fff" stroke-width="2.5" stroke-linejoin="round" stroke-linecap="round"/><path d="M 963.30,289.70 L 963.30,298.30 A 11.70,5.00 0 0 0 986.70,298.30 L 986.70,289.70 A 11.70,5.00 0 0 0 963.30,289.70 Z" fill="#fff" stroke="#000" stroke-width="1.8" stroke-linejoin="round" stroke-linecap="round"/><path d="M 964.12,291.45 L 969.74,293.95 L 980.26,293.95 L 985.88,291.45" fill="none" stroke="#000" stroke-width="0.9" stroke-linejoin="round" stroke-linecap="round"/><path d="M 969.74,293.95 L 969.74,302.55" fill="none" stroke="#000" stroke-width="0.9" stroke-linejoin="round" stroke-linecap="round"/><path d="M 980.26,293.95 L 980.26,302.55" fill="none" stroke="#000" stroke-width="0.9" stroke-linejoin="round" stroke-linecap="round"/><ellipse cx="975.00" cy="289.45" rx="5.62" ry="2.75" fill="none" stroke="#000" stroke-width="1.62" stroke-linejoin="round" stroke-linecap="round"/><ellipse cx="975.00" cy="289.45" rx="2.92" ry="1.40" fill="none" stroke="#000" stroke-width="0.8" stroke-linejoin="round" stroke-linecap="round"/>
<path d="M 961.60,320.20 L 961.60,323.40 A 13.20,5.40 0 0 0 988.00,323.40 L 988.00,320.20 A 13.20,5.40 0 0 0 961.60,320.20 Z" fill="#fff" stroke="#000" stroke-width="1.8" stroke-linejoin="round" stroke-linecap="round"/><path d="M 961.60,320.20 A 13.20,5.40 0 0 0 988.00,320.20" fill="none" stroke="#000" stroke-width="0.9" stroke-linejoin="round" stroke-linecap="round"/><ellipse cx="974.80" cy="320.20" rx="6.80" ry="3.00" fill="#fff" stroke="#000" stroke-width="1.62" stroke-linejoin="round" stroke-linecap="round"/>
<path d="M 955.8,350 L 955.8,353.5 A 17.3,7.6 0 0 0 990.4,353.5 L 990.4,350" fill="#fff" stroke="#000" stroke-width="1.8" stroke-linejoin="round" stroke-linecap="round"/>
<ellipse cx="973.10" cy="350.00" rx="17.30" ry="7.60" fill="#fff" stroke="#000" stroke-width="1.8" stroke-linejoin="round" stroke-linecap="round"/>
<ellipse cx="973.30" cy="350.50" rx="9.80" ry="3.60" fill="#fff" stroke="#000" stroke-width="1.6" stroke-linejoin="round" stroke-linecap="round"/>
<path d="M 970,343 Q 975,339 980,342 Q 976,345 978,349" fill="#fff" stroke="#000" stroke-width="1.6" stroke-linejoin="round" stroke-linecap="round"/>
<path d="M 978,343.5 Q 986,341 985,348" fill="none" stroke="#000" stroke-width="1.5" stroke-linejoin="round" stroke-linecap="round"/>
<path d="M 956.30,384.60 L 956.30,396.50 A 18.40,7.90 0 0 0 993.10,396.50 L 993.10,384.60 A 18.40,7.90 0 0 0 956.30,384.60 Z" fill="#fff" stroke="#000" stroke-width="2.0" stroke-linejoin="round" stroke-linecap="round"/><ellipse cx="974.70" cy="384.60" rx="18.40" ry="7.90" fill="none" stroke="#000" stroke-width="2.0" stroke-linejoin="round" stroke-linecap="round"/>
<ellipse cx="974.70" cy="384.60" rx="15.50" ry="6.20" fill="none" stroke="#000" stroke-width="0.9" stroke-linejoin="round" stroke-linecap="round"/><ellipse cx="974.70" cy="385.00" rx="8.90" ry="3.80" fill="none" stroke="#000" stroke-width="1.6" stroke-linejoin="round" stroke-linecap="round"/>
<path d="M 947.70,429.00 L 947.70,453.90 A 26.50,11.10 0 0 0 1000.70,453.90 L 1000.70,429.00 A 26.50,11.10 0 0 0 947.70,429.00 Z" fill="#fff" stroke="#000" stroke-width="2.0" stroke-linejoin="round" stroke-linecap="round"/><ellipse cx="974.20" cy="429.00" rx="26.50" ry="11.10" fill="none" stroke="#000" stroke-width="2.0" stroke-linejoin="round" stroke-linecap="round"/>
<ellipse cx="974.20" cy="429.60" rx="23.60" ry="9.00" fill="none" stroke="#000" stroke-width="1.0" stroke-linejoin="round" stroke-linecap="round"/>
<path d="M 957,434.5 Q 974,425 991,434.5" fill="none" stroke="#000" stroke-width="1.0" stroke-linejoin="round" stroke-linecap="round"/><path d="M 955,436 A 19,6.6 0 0 0 993.4,436" fill="none" stroke="#000" stroke-width="2.0" stroke-linejoin="round" stroke-linecap="round"/>
<ellipse cx="974.20" cy="435.00" rx="14.00" ry="4.20" fill="none" stroke="#000" stroke-width="0.9" stroke-linejoin="round" stroke-linecap="round"/>
<path d="M 960.00,507.50 L 960.00,515.00 A 14.10,5.50 0 0 0 988.20,515.00 L 988.20,507.50 A 14.10,5.50 0 0 0 960.00,507.50 Z" fill="#fff" stroke="#000" stroke-width="2.0" stroke-linejoin="round" stroke-linecap="round"/><ellipse cx="974.10" cy="507.50" rx="14.10" ry="5.50" fill="none" stroke="#000" stroke-width="2.0" stroke-linejoin="round" stroke-linecap="round"/>
<path d="M 963,493 L 963,506 A 11.1,4.6 0 0 0 985.3,506 L 985.3,493" fill="#fff" stroke="#000" stroke-width="1.8" stroke-linejoin="round" stroke-linecap="round"/>
<ellipse cx="974.20" cy="492.70" rx="11.10" ry="4.80" fill="#fff" stroke="#000" stroke-width="1.8" stroke-linejoin="round" stroke-linecap="round"/><ellipse cx="974.20" cy="492.70" rx="7.00" ry="2.80" fill="none" stroke="#000" stroke-width="1.2" stroke-linejoin="round" stroke-linecap="round"/>
<g transform="translate(815,550) scale(0.150651)"><path d="M 50,408 L 105,372 L 355,470 L 340,505 L 250,565 L 100,522 Z" fill="#fff" stroke="#000" stroke-width="2.6" stroke-linejoin="round" stroke-linecap="round" vector-effect="non-scaling-stroke"/><path d="M 62,420 L 100,480 L 250,535" fill="none" stroke="#000" stroke-width="1.1" stroke-linejoin="round" stroke-linecap="round" vector-effect="non-scaling-stroke"/><ellipse cx="120" cy="420" rx="28" ry="15" fill="none" stroke="#000" stroke-width="1.2" stroke-linejoin="round" stroke-linecap="round" vector-effect="non-scaling-stroke"/><path d="M 430,600 L 430,650 Q 480,690 550,640 L 550,590 Z" fill="#fff" stroke="#000" stroke-width="2.2" stroke-linejoin="round" stroke-linecap="round" vector-effect="non-scaling-stroke"/><ellipse cx="505" cy="625" rx="12" ry="12" fill="none" stroke="#000" stroke-width="1.1" stroke-linejoin="round" stroke-linecap="round" vector-effect="non-scaling-stroke"/><path d="M 1010,42 Q 1100,22 1160,75 Q 1185,120 1172,160 L 948,292 L 930,338 L 548,560 Q 500,615 400,650 Q 300,662 255,628 Q 232,592 270,556 L 345,505 L 460,412 L 752,240 L 762,200 Z" fill="#fff" stroke="#000" stroke-width="3.6" stroke-linejoin="round" stroke-linecap="round" vector-effect="non-scaling-stroke"/><path d="M 1172,150 L 940,285 L 922,330 L 540,548 Q 470,600 370,630 Q 290,640 262,600" fill="none" stroke="#000" stroke-width="1.1" stroke-linejoin="round" stroke-linecap="round" vector-effect="non-scaling-stroke"/><path d="M 762,200 L 905,305 L 930,338" fill="none" stroke="#000" stroke-width="1.1" stroke-linejoin="round" stroke-linecap="round" vector-effect="non-scaling-stroke"/><path d="M 752,240 L 890,330" fill="none" stroke="#000" stroke-width="1.1" stroke-linejoin="round" stroke-linecap="round" vector-effect="non-scaling-stroke"/><ellipse cx="455" cy="462" rx="92" ry="52" fill="#fff" stroke="#000" stroke-width="1.2" stroke-linejoin="round" stroke-linecap="round" vector-effect="non-scaling-stroke"/><ellipse cx="455" cy="462" rx="78" ry="42" fill="none" stroke="#000" stroke-width="1.0" stroke-linejoin="round" stroke-linecap="round" vector-effect="non-scaling-stroke"/><ellipse cx="452" cy="462" rx="52" ry="30" fill="#fff" stroke="#000" stroke-width="2.0" stroke-linejoin="round" stroke-linecap="round" vector-effect="non-scaling-stroke"/><path d="M 290,565 Q 380,540 470,548 Q 440,590 360,598 Q 300,595 290,565 Z" fill="#fff" stroke="#000" stroke-width="2.0" stroke-linejoin="round" stroke-linecap="round" vector-effect="non-scaling-stroke"/><ellipse cx="1065" cy="108" rx="38" ry="20" fill="none" stroke="#000" stroke-width="2.0" stroke-linejoin="round" stroke-linecap="round" vector-effect="non-scaling-stroke"/><ellipse cx="1065" cy="112" rx="22" ry="11" fill="none" stroke="#000" stroke-width="1.0" stroke-linejoin="round" stroke-linecap="round" vector-effect="non-scaling-stroke"/></g>
<path d="M 970.20,675.10 L 970.20,676.00 L 978.60,676.00 L 978.60,675.10" fill="#fff" stroke="#000" stroke-width="1.2800000000000002" stroke-linejoin="round" stroke-linecap="round"/><path d="M 965.40,663.50 L 965.40,673.00 A 9.00,3.50 0 0 0 983.40,673.00 L 983.40,663.50 A 9.00,3.50 0 0 0 965.40,663.50 Z" fill="#fff" stroke="#000" stroke-width="1.6" stroke-linejoin="round" stroke-linecap="round"/><path d="M 966.03,664.73 L 970.35,666.48 L 978.45,666.48 L 982.77,664.73" fill="none" stroke="#000" stroke-width="0.9" stroke-linejoin="round" stroke-linecap="round"/><path d="M 970.35,666.48 L 970.35,675.98" fill="none" stroke="#000" stroke-width="0.9" stroke-linejoin="round" stroke-linecap="round"/><path d="M 978.45,666.48 L 978.45,675.98" fill="none" stroke="#000" stroke-width="0.9" stroke-linejoin="round" stroke-linecap="round"/>
<path d="M 969.8,626 L 969.8,662 L 978.6,662 L 978.6,626 Q 974.2,621.5 969.8,626 Z" fill="#fff" stroke="#000" stroke-width="1.4" stroke-linejoin="round" stroke-linecap="round"/>
<path d="M 969.80,628.00 L 978.60,627.00" fill="none" stroke="#000" stroke-width="0.9" stroke-linejoin="round" stroke-linecap="round"/>
<path d="M 969.80,630.60 L 978.60,629.60" fill="none" stroke="#000" stroke-width="0.9" stroke-linejoin="round" stroke-linecap="round"/>
<path d="M 969.80,633.20 L 978.60,632.20" fill="none" stroke="#000" stroke-width="0.9" stroke-linejoin="round" stroke-linecap="round"/>
<path d="M 969.80,635.80 L 978.60,634.80" fill="none" stroke="#000" stroke-width="0.9" stroke-linejoin="round" stroke-linecap="round"/>
<path d="M 969.80,638.40 L 978.60,637.40" fill="none" stroke="#000" stroke-width="0.9" stroke-linejoin="round" stroke-linecap="round"/>
<path d="M 969.80,641.00 L 978.60,640.00" fill="none" stroke="#000" stroke-width="0.9" stroke-linejoin="round" stroke-linecap="round"/>
<path d="M 969.80,643.60 L 978.60,642.60" fill="none" stroke="#000" stroke-width="0.9" stroke-linejoin="round" stroke-linecap="round"/>
<path d="M 969.80,646.20 L 978.60,645.20" fill="none" stroke="#000" stroke-width="0.9" stroke-linejoin="round" stroke-linecap="round"/>
<path d="M 969.80,648.80 L 978.60,647.80" fill="none" stroke="#000" stroke-width="0.9" stroke-linejoin="round" stroke-linecap="round"/>
<path d="M 969.80,651.40 L 978.60,650.40" fill="none" stroke="#000" stroke-width="0.9" stroke-linejoin="round" stroke-linecap="round"/>
<path d="M 969.80,654.00 L 978.60,653.00" fill="none" stroke="#000" stroke-width="0.9" stroke-linejoin="round" stroke-linecap="round"/>
<path d="M 969.80,656.60 L 978.60,655.60" fill="none" stroke="#000" stroke-width="0.9" stroke-linejoin="round" stroke-linecap="round"/>
<path d="M 969.80,659.20 L 978.60,658.20" fill="none" stroke="#000" stroke-width="0.9" stroke-linejoin="round" stroke-linecap="round"/>
<path d="M 969.80,661.80 L 978.60,660.80" fill="none" stroke="#000" stroke-width="0.9" stroke-linejoin="round" stroke-linecap="round"/>
<g transform="translate(977,710) rotate(38)"><path d="M -12,-3.5 L 2,-3.5 L 2,3.5 L -12,3.5 Z" fill="#fff" stroke="#000" stroke-width="1.3" stroke-linejoin="round" stroke-linecap="round"/><path d="M -11.00,-3.50 L -10.00,3.50" fill="none" stroke="#000" stroke-width="0.9" stroke-linejoin="round" stroke-linecap="round"/><path d="M -8.80,-3.50 L -7.80,3.50" fill="none" stroke="#000" stroke-width="0.9" stroke-linejoin="round" stroke-linecap="round"/><path d="M -6.60,-3.50 L -5.60,3.50" fill="none" stroke="#000" stroke-width="0.9" stroke-linejoin="round" stroke-linecap="round"/><path d="M -4.40,-3.50 L -3.40,3.50" fill="none" stroke="#000" stroke-width="0.9" stroke-linejoin="round" stroke-linecap="round"/><path d="M -2.20,-3.50 L -1.20,3.50" fill="none" stroke="#000" stroke-width="0.9" stroke-linejoin="round" stroke-linecap="round"/><path d="M 0.00,-3.50 L 1.00,3.50" fill="none" stroke="#000" stroke-width="0.9" stroke-linejoin="round" stroke-linecap="round"/><path d="M 2,-5.5 L 7,-5.5 Q 12,-4 12,0 Q 12,4 7,5.5 L 2,5.5 Z" fill="#fff" stroke="#000" stroke-width="1.6" stroke-linejoin="round" stroke-linecap="round"/></g>
<path d="M 884,825.5 L 870,830.5 Q 866,832 868,835 Q 871,838 876,836 L 878,835" fill="none" stroke="#000" stroke-width="1.5" stroke-linejoin="round" stroke-linecap="round"/>
<path d="M 884,824.5 L 871,829" fill="none" stroke="#000" stroke-width="1.0" stroke-linejoin="round" stroke-linecap="round"/>
<path d="M 915,813 L 929,806.5 Q 934,804 933,808 Q 932,812 926,814.5 L 924,815.5" fill="none" stroke="#000" stroke-width="1.5" stroke-linejoin="round" stroke-linecap="round"/>
<ellipse cx="915.50" cy="813.50" rx="3.60" ry="6.60" fill="#fff" stroke="#000" stroke-width="1.4" stroke-linejoin="round" stroke-linecap="round" transform="rotate(-20.77225468204583 915.5 813.5)"/><ellipse cx="912.28" cy="814.72" rx="3.60" ry="6.60" fill="#fff" stroke="#000" stroke-width="1.4" stroke-linejoin="round" stroke-linecap="round" transform="rotate(-20.77225468204583 912.2777777777778 814.7222222222222)"/><ellipse cx="909.06" cy="815.94" rx="3.60" ry="6.60" fill="#fff" stroke="#000" stroke-width="1.4" stroke-linejoin="round" stroke-linecap="round" transform="rotate(-20.77225468204583 909.0555555555555 815.9444444444445)"/><ellipse cx="905.83" cy="817.17" rx="3.60" ry="6.60" fill="#fff" stroke="#000" stroke-width="1.4" stroke-linejoin="round" stroke-linecap="round" transform="rotate(-20.77225468204583 905.8333333333334 817.1666666666666)"/><ellipse cx="902.61" cy="818.39" rx="3.60" ry="6.60" fill="#fff" stroke="#000" stroke-width="1.4" stroke-linejoin="round" stroke-linecap="round" transform="rotate(-20.77225468204583 902.6111111111111 818.3888888888889)"/><ellipse cx="899.39" cy="819.61" rx="3.60" ry="6.60" fill="#fff" stroke="#000" stroke-width="1.4" stroke-linejoin="round" stroke-linecap="round" transform="rotate(-20.77225468204583 899.3888888888889 819.6111111111111)"/><ellipse cx="896.17" cy="820.83" rx="3.60" ry="6.60" fill="#fff" stroke="#000" stroke-width="1.4" stroke-linejoin="round" stroke-linecap="round" transform="rotate(-20.77225468204583 896.1666666666666 820.8333333333334)"/><ellipse cx="892.94" cy="822.06" rx="3.60" ry="6.60" fill="#fff" stroke="#000" stroke-width="1.4" stroke-linejoin="round" stroke-linecap="round" transform="rotate(-20.77225468204583 892.9444444444445 822.0555555555555)"/><ellipse cx="889.72" cy="823.28" rx="3.60" ry="6.60" fill="#fff" stroke="#000" stroke-width="1.4" stroke-linejoin="round" stroke-linecap="round" transform="rotate(-20.77225468204583 889.7222222222222 823.2777777777778)"/><ellipse cx="886.50" cy="824.50" rx="3.60" ry="6.60" fill="#fff" stroke="#000" stroke-width="1.4" stroke-linejoin="round" stroke-linecap="round" transform="rotate(-20.77225468204583 886.5 824.5)"/>
<g transform="translate(440,750) scale(0.211726)"><path d="M 150,165 L 930,625" fill="none" stroke="#000" stroke-width="1.3" stroke-linejoin="round" stroke-linecap="round" vector-effect="non-scaling-stroke"/><path d="M 118,135 L 160,160 L 155,172 L 112,150 Z" fill="#fff" stroke="#000" stroke-width="1.2" stroke-linejoin="round" stroke-linecap="round" vector-effect="non-scaling-stroke"/><path d="M 128,140 L 124,152" fill="none" stroke="#000" stroke-width="0.9" stroke-linejoin="round" stroke-linecap="round" vector-effect="non-scaling-stroke"/><path d="M 136,145 L 132,157" fill="none" stroke="#000" stroke-width="0.9" stroke-linejoin="round" stroke-linecap="round" vector-effect="non-scaling-stroke"/><path d="M 144,150 L 140,162" fill="none" stroke="#000" stroke-width="0.9" stroke-linejoin="round" stroke-linecap="round" vector-effect="non-scaling-stroke"/><path d="M 152,155 L 148,167" fill="none" stroke="#000" stroke-width="0.9" stroke-linejoin="round" stroke-linecap="round" vector-effect="non-scaling-stroke"/><path d="M 100,125 Q 108,118 120,126 L 126,140 Q 122,156 110,154 Q 96,146 100,125 Z" fill="#fff" stroke="#000" stroke-width="1.8" stroke-linejoin="round" stroke-linecap="round" vector-effect="non-scaling-stroke"/><ellipse cx="285" cy="245" rx="12" ry="11" fill="#fff" stroke="#000" stroke-width="1.4" stroke-linejoin="round" stroke-linecap="round" vector-effect="non-scaling-stroke"/><ellipse cx="285" cy="245" rx="5" ry="5" fill="none" stroke="#000" stroke-width="0.9" stroke-linejoin="round" stroke-linecap="round" vector-effect="non-scaling-stroke"/><ellipse cx="760" cy="520" rx="12" ry="11" fill="#fff" stroke="#000" stroke-width="1.4" stroke-linejoin="round" stroke-linecap="round" vector-effect="non-scaling-stroke"/><ellipse cx="760" cy="520" rx="5" ry="5" fill="none" stroke="#000" stroke-width="0.9" stroke-linejoin="round" stroke-linecap="round" vector-effect="non-scaling-stroke"/><path d="M 918,612 L 935,606 L 950,615 L 950,632 L 933,640 L 917,630 Z" fill="#fff" stroke="#000" stroke-width="1.8" stroke-linejoin="round" stroke-linecap="round" vector-effect="non-scaling-stroke"/><ellipse cx="933" cy="622" rx="8" ry="8" fill="none" stroke="#000" stroke-width="1.0" stroke-linejoin="round" stroke-linecap="round" vector-effect="non-scaling-stroke"/><path d="M 408,318 L 465,282 L 500,282 L 540,292 L 542,345 L 512,358 L 498,388 L 462,405 L 440,410 L 408,390 Z" fill="#fff" stroke="#000" stroke-width="2.0" stroke-linejoin="round" stroke-linecap="round" vector-effect="non-scaling-stroke"/><path d="M 408,318 L 440,338 L 440,410 M 440,338 L 540,294" fill="none" stroke="#000" stroke-width="1.1" stroke-linejoin="round" stroke-linecap="round" vector-effect="non-scaling-stroke"/><path d="M 455,290 L 462,272 L 488,268 L 496,285" fill="#fff" stroke="#000" stroke-width="1.6" stroke-linejoin="round" stroke-linecap="round" vector-effect="non-scaling-stroke"/><ellipse cx="518" cy="297" rx="9" ry="7" fill="#fff" stroke="#000" stroke-width="1.3" stroke-linejoin="round" stroke-linecap="round" vector-effect="non-scaling-stroke"/><ellipse cx="532" cy="303" rx="8" ry="6" fill="#fff" stroke="#000" stroke-width="1.3" stroke-linejoin="round" stroke-linecap="round" vector-effect="non-scaling-stroke"/><ellipse cx="450" cy="390" rx="8" ry="7" fill="#fff" stroke="#000" stroke-width="1.3" stroke-linejoin="round" stroke-linecap="round" vector-effect="non-scaling-stroke"/><ellipse cx="420" cy="325" rx="6" ry="5" fill="none" stroke="#000" stroke-width="1.0" stroke-linejoin="round" stroke-linecap="round" vector-effect="non-scaling-stroke"/><path d="M 705,112 L 705,208 L 735,208 L 735,112" fill="#fff" stroke="#000" stroke-width="1.3" stroke-linejoin="round" stroke-linecap="round" vector-effect="non-scaling-stroke"/><path d="M 705,123 L 735,118" fill="none" stroke="#000" stroke-width="0.9" stroke-linejoin="round" stroke-linecap="round" vector-effect="non-scaling-stroke"/><path d="M 705,133 L 735,128" fill="none" stroke="#000" stroke-width="0.9" stroke-linejoin="round" stroke-linecap="round" vector-effect="non-scaling-stroke"/><path d="M 705,143 L 735,138" fill="none" stroke="#000" stroke-width="0.9" stroke-linejoin="round" stroke-linecap="round" vector-effect="non-scaling-stroke"/><path d="M 705,153 L 735,148" fill="none" stroke="#000" stroke-width="0.9" stroke-linejoin="round" stroke-linecap="round" vector-effect="non-scaling-stroke"/><path d="M 705,163 L 735,158" fill="none" stroke="#000" stroke-width="0.9" stroke-linejoin="round" stroke-linecap="round" vector-effect="non-scaling-stroke"/><path d="M 705,173 L 735,168" fill="none" stroke="#000" stroke-width="0.9" stroke-linejoin="round" stroke-linecap="round" vector-effect="non-scaling-stroke"/><path d="M 705,183 L 735,178" fill="none" stroke="#000" stroke-width="0.9" stroke-linejoin="round" stroke-linecap="round" vector-effect="non-scaling-stroke"/><path d="M 705,193 L 735,188" fill="none" stroke="#000" stroke-width="0.9" stroke-linejoin="round" stroke-linecap="round" vector-effect="non-scaling-stroke"/><path d="M 705,203 L 735,198" fill="none" stroke="#000" stroke-width="0.9" stroke-linejoin="round" stroke-linecap="round" vector-effect="non-scaling-stroke"/><path d="M 686,86 L 688,106 Q 718,122 750,106 L 750,86 Q 718,68 686,86 Z" fill="#fff" stroke="#000" stroke-width="1.8" stroke-linejoin="round" stroke-linecap="round" vector-effect="non-scaling-stroke"/><path d="M 688,90 Q 718,104 748,90" fill="none" stroke="#000" stroke-width="1.0" stroke-linejoin="round" stroke-linecap="round" vector-effect="non-scaling-stroke"/><path d="M 703,97 L 703,113 M 733,97 L 733,113" fill="none" stroke="#000" stroke-width="0.9" stroke-linejoin="round" stroke-linecap="round" vector-effect="non-scaling-stroke"/><path d="M 676,272 L 680,284 Q 720,310 762,284 L 765,272" fill="#fff" stroke="#000" stroke-width="2.4" stroke-linejoin="round" stroke-linecap="round" vector-effect="non-scaling-stroke"/><ellipse cx="720" cy="272" rx="44" ry="18" fill="#fff" stroke="#000" stroke-width="2.8" stroke-linejoin="round" stroke-linecap="round" vector-effect="non-scaling-stroke"/><ellipse cx="718" cy="272" rx="17" ry="7" fill="#fff" stroke="#000" stroke-width="2.4" stroke-linejoin="round" stroke-linecap="round" vector-effect="non-scaling-stroke"/><path d="M 478,398 L 560,332 L 630,294 L 665,302 L 772,376 L 766,390 L 640,428 L 560,455 L 492,470 L 480,462 Z" fill="#fff" stroke="#000" stroke-width="2.4" stroke-linejoin="round" stroke-linecap="round" vector-effect="non-scaling-stroke"/><path d="M 492,405 L 565,345 L 628,312 L 645,325 L 640,398 L 585,425 L 540,440 L 494,468" fill="none" stroke="#000" stroke-width="1.1" stroke-linejoin="round" stroke-linecap="round" vector-effect="non-scaling-stroke"/><path d="M 640,398 L 770,380" fill="none" stroke="#000" stroke-width="1.1" stroke-linejoin="round" stroke-linecap="round" vector-effect="non-scaling-stroke"/><path d="M 540,455 L 560,448 L 640,428" fill="none" stroke="#000" stroke-width="1.1" stroke-linejoin="round" stroke-linecap="round" vector-effect="non-scaling-stroke"/><path d="M 688,372 Q 684,382 696,384 L 740,378 Q 752,372 745,366 L 700,366 Q 690,366 688,372 Z" fill="none" stroke="#000" stroke-width="1.8" stroke-linejoin="round" stroke-linecap="round" vector-effect="non-scaling-stroke"/><path d="M 602,334 Q 600,342 612,342 L 640,334 Q 648,326 638,322 L 614,324 Q 604,326 602,334 Z" fill="none" stroke="#000" stroke-width="1.6" stroke-linejoin="round" stroke-linecap="round" vector-effect="non-scaling-stroke"/><ellipse cx="537" cy="385" rx="7" ry="7" fill="#333" stroke="#000" stroke-width="1.0" stroke-linejoin="round" stroke-linecap="round" vector-effect="non-scaling-stroke"/><ellipse cx="590" cy="360" rx="7" ry="7" fill="#333" stroke="#000" stroke-width="1.0" stroke-linejoin="round" stroke-linecap="round" vector-effect="non-scaling-stroke"/><ellipse cx="545" cy="425" rx="7" ry="7" fill="#333" stroke="#000" stroke-width="1.0" stroke-linejoin="round" stroke-linecap="round" vector-effect="non-scaling-stroke"/><ellipse cx="590" cy="400" rx="7" ry="7" fill="#333" stroke="#000" stroke-width="1.0" stroke-linejoin="round" stroke-linecap="round" vector-effect="non-scaling-stroke"/><path d="M 540,385 L 930,625" fill="none" stroke="#000" stroke-width="1.3" stroke-linejoin="round" stroke-linecap="round" vector-effect="non-scaling-stroke"/></g><path d="M 752.7,915 L 752.7,1005.6 L 762.3,1005.6 L 762.3,915" fill="#fff" stroke="#000" stroke-width="1.4" stroke-linejoin="round" stroke-linecap="round"/>
<path d="M 753.30,976.00 L 753.30,1005.60 L 761.70,1005.60 L 761.70,976.00" fill="#fff" stroke="#000" stroke-width="1.1" stroke-linejoin="round" stroke-linecap="round"/><ellipse cx="757.50" cy="977.74" rx="4.80" ry="1.59" fill="#fff" stroke="#000" stroke-width="1.0" stroke-linejoin="round" stroke-linecap="round"/><ellipse cx="757.50" cy="980.64" rx="4.80" ry="1.59" fill="#fff" stroke="#000" stroke-width="1.0" stroke-linejoin="round" stroke-linecap="round"/><ellipse cx="757.50" cy="983.54" rx="4.80" ry="1.59" fill="#fff" stroke="#000" stroke-width="1.0" stroke-linejoin="round" stroke-linecap="round"/><ellipse cx="757.50" cy="986.44" rx="4.80" ry="1.59" fill="#fff" stroke="#000" stroke-width="1.0" stroke-linejoin="round" stroke-linecap="round"/><ellipse cx="757.50" cy="989.34" rx="4.80" ry="1.59" fill="#fff" stroke="#000" stroke-width="1.0" stroke-linejoin="round" stroke-linecap="round"/><ellipse cx="757.50" cy="992.24" rx="4.80" ry="1.59" fill="#fff" stroke="#000" stroke-width="1.0" stroke-linejoin="round" stroke-linecap="round"/><ellipse cx="757.50" cy="995.14" rx="4.80" ry="1.59" fill="#fff" stroke="#000" stroke-width="1.0" stroke-linejoin="round" stroke-linecap="round"/><ellipse cx="757.50" cy="998.04" rx="4.80" ry="1.59" fill="#fff" stroke="#000" stroke-width="1.0" stroke-linejoin="round" stroke-linecap="round"/><ellipse cx="757.50" cy="1000.94" rx="4.80" ry="1.59" fill="#fff" stroke="#000" stroke-width="1.0" stroke-linejoin="round" stroke-linecap="round"/><ellipse cx="757.50" cy="1003.84" rx="4.80" ry="1.59" fill="#fff" stroke="#000" stroke-width="1.0" stroke-linejoin="round" stroke-linecap="round"/>
<path d="M 746.80,909.70 L 746.80,917.30 A 10.70,4.00 0 0 0 768.20,917.30 L 768.20,909.70 A 10.70,4.00 0 0 0 746.80,909.70 Z" fill="#fff" stroke="#000" stroke-width="1.8" stroke-linejoin="round" stroke-linecap="round"/><path d="M 747.55,911.10 L 752.68,913.10 L 762.32,913.10 L 767.45,911.10" fill="none" stroke="#000" stroke-width="0.9" stroke-linejoin="round" stroke-linecap="round"/><path d="M 752.68,913.10 L 752.68,920.70" fill="none" stroke="#000" stroke-width="0.9" stroke-linejoin="round" stroke-linecap="round"/><path d="M 762.32,913.10 L 762.32,920.70" fill="none" stroke="#000" stroke-width="0.9" stroke-linejoin="round" stroke-linecap="round"/>
<path d="M 782.7,945 L 782.7,1034 L 792.3,1034 L 792.3,945" fill="#fff" stroke="#000" stroke-width="1.4" stroke-linejoin="round" stroke-linecap="round"/>
<path d="M 783.30,1007.00 L 783.30,1034.00 L 791.70,1034.00 L 791.70,1007.00" fill="#fff" stroke="#000" stroke-width="1.1" stroke-linejoin="round" stroke-linecap="round"/><ellipse cx="787.50" cy="1008.74" rx="4.80" ry="1.59" fill="#fff" stroke="#000" stroke-width="1.0" stroke-linejoin="round" stroke-linecap="round"/><ellipse cx="787.50" cy="1011.64" rx="4.80" ry="1.59" fill="#fff" stroke="#000" stroke-width="1.0" stroke-linejoin="round" stroke-linecap="round"/><ellipse cx="787.50" cy="1014.54" rx="4.80" ry="1.59" fill="#fff" stroke="#000" stroke-width="1.0" stroke-linejoin="round" stroke-linecap="round"/><ellipse cx="787.50" cy="1017.44" rx="4.80" ry="1.59" fill="#fff" stroke="#000" stroke-width="1.0" stroke-linejoin="round" stroke-linecap="round"/><ellipse cx="787.50" cy="1020.34" rx="4.80" ry="1.59" fill="#fff" stroke="#000" stroke-width="1.0" stroke-linejoin="round" stroke-linecap="round"/><ellipse cx="787.50" cy="1023.24" rx="4.80" ry="1.59" fill="#fff" stroke="#000" stroke-width="1.0" stroke-linejoin="round" stroke-linecap="round"/><ellipse cx="787.50" cy="1026.14" rx="4.80" ry="1.59" fill="#fff" stroke="#000" stroke-width="1.0" stroke-linejoin="round" stroke-linecap="round"/><ellipse cx="787.50" cy="1029.04" rx="4.80" ry="1.59" fill="#fff" stroke="#000" stroke-width="1.0" stroke-linejoin="round" stroke-linecap="round"/><ellipse cx="787.50" cy="1031.94" rx="4.80" ry="1.59" fill="#fff" stroke="#000" stroke-width="1.0" stroke-linejoin="round" stroke-linecap="round"/>
<path d="M 776.80,939.00 L 776.80,946.60 A 10.70,4.00 0 0 0 798.20,946.60 L 798.20,939.00 A 10.70,4.00 0 0 0 776.80,939.00 Z" fill="#fff" stroke="#000" stroke-width="1.8" stroke-linejoin="round" stroke-linecap="round"/><path d="M 777.55,940.40 L 782.68,942.40 L 792.32,942.40 L 797.45,940.40" fill="none" stroke="#000" stroke-width="0.9" stroke-linejoin="round" stroke-linecap="round"/><path d="M 782.68,942.40 L 782.68,950.00" fill="none" stroke="#000" stroke-width="0.9" stroke-linejoin="round" stroke-linecap="round"/><path d="M 792.32,942.40 L 792.32,950.00" fill="none" stroke="#000" stroke-width="0.9" stroke-linejoin="round" stroke-linecap="round"/>
<path d="M 801.90,1050.00 L 801.90,1093.40 L 811.50,1093.40 L 811.50,1050.00" fill="#fff" stroke="#000" stroke-width="1.1" stroke-linejoin="round" stroke-linecap="round"/><ellipse cx="806.70" cy="1051.80" rx="5.40" ry="1.65" fill="#fff" stroke="#000" stroke-width="1.0" stroke-linejoin="round" stroke-linecap="round"/><ellipse cx="806.70" cy="1054.80" rx="5.40" ry="1.65" fill="#fff" stroke="#000" stroke-width="1.0" stroke-linejoin="round" stroke-linecap="round"/><ellipse cx="806.70" cy="1057.80" rx="5.40" ry="1.65" fill="#fff" stroke="#000" stroke-width="1.0" stroke-linejoin="round" stroke-linecap="round"/><ellipse cx="806.70" cy="1060.80" rx="5.40" ry="1.65" fill="#fff" stroke="#000" stroke-width="1.0" stroke-linejoin="round" stroke-linecap="round"/><ellipse cx="806.70" cy="1063.80" rx="5.40" ry="1.65" fill="#fff" stroke="#000" stroke-width="1.0" stroke-linejoin="round" stroke-linecap="round"/><ellipse cx="806.70" cy="1066.80" rx="5.40" ry="1.65" fill="#fff" stroke="#000" stroke-width="1.0" stroke-linejoin="round" stroke-linecap="round"/><ellipse cx="806.70" cy="1069.80" rx="5.40" ry="1.65" fill="#fff" stroke="#000" stroke-width="1.0" stroke-linejoin="round" stroke-linecap="round"/><ellipse cx="806.70" cy="1072.80" rx="5.40" ry="1.65" fill="#fff" stroke="#000" stroke-width="1.0" stroke-linejoin="round" stroke-linecap="round"/><ellipse cx="806.70" cy="1075.80" rx="5.40" ry="1.65" fill="#fff" stroke="#000" stroke-width="1.0" stroke-linejoin="round" stroke-linecap="round"/><ellipse cx="806.70" cy="1078.80" rx="5.40" ry="1.65" fill="#fff" stroke="#000" stroke-width="1.0" stroke-linejoin="round" stroke-linecap="round"/><ellipse cx="806.70" cy="1081.80" rx="5.40" ry="1.65" fill="#fff" stroke="#000" stroke-width="1.0" stroke-linejoin="round" stroke-linecap="round"/><ellipse cx="806.70" cy="1084.80" rx="5.40" ry="1.65" fill="#fff" stroke="#000" stroke-width="1.0" stroke-linejoin="round" stroke-linecap="round"/><ellipse cx="806.70" cy="1087.80" rx="5.40" ry="1.65" fill="#fff" stroke="#000" stroke-width="1.0" stroke-linejoin="round" stroke-linecap="round"/><ellipse cx="806.70" cy="1090.80" rx="5.40" ry="1.65" fill="#fff" stroke="#000" stroke-width="1.0" stroke-linejoin="round" stroke-linecap="round"/>
<path d="M 793.90,1043.20 L 793.90,1049.70 A 12.80,4.50 0 0 0 819.50,1049.70 L 819.50,1043.20 A 12.80,4.50 0 0 0 793.90,1043.20 Z" fill="#fff" stroke="#000" stroke-width="1.8" stroke-linejoin="round" stroke-linecap="round"/><path d="M 794.80,1044.78 L 800.94,1047.03 L 812.46,1047.03 L 818.60,1044.78" fill="none" stroke="#000" stroke-width="0.9" stroke-linejoin="round" stroke-linecap="round"/><path d="M 800.94,1047.03 L 800.94,1053.53" fill="none" stroke="#000" stroke-width="0.9" stroke-linejoin="round" stroke-linecap="round"/><path d="M 812.46,1047.03 L 812.46,1053.53" fill="none" stroke="#000" stroke-width="0.9" stroke-linejoin="round" stroke-linecap="round"/>
<path d="M 790.8,1113 L 791.5,1117 Q 806.7,1131 822,1117 L 822.7,1113" fill="#fff" stroke="#000" stroke-width="2.2" stroke-linejoin="round" stroke-linecap="round"/>
<ellipse cx="806.70" cy="1113.00" rx="16.00" ry="6.50" fill="#fff" stroke="#000" stroke-width="2.0" stroke-linejoin="round" stroke-linecap="round"/><ellipse cx="806.70" cy="1112.50" rx="6.50" ry="2.80" fill="#fff" stroke="#000" stroke-width="1.6" stroke-linejoin="round" stroke-linecap="round"/>
<path d="M 797,1121 Q 806.7,1126 816.5,1121" fill="none" stroke="#000" stroke-width="1.0" stroke-linejoin="round" stroke-linecap="round"/>
<path d="M 513.70,982.00 L 513.70,1025.00 L 523.30,1025.00 L 523.30,982.00" fill="#fff" stroke="#000" stroke-width="1.1" stroke-linejoin="round" stroke-linecap="round"/><ellipse cx="518.50" cy="983.80" rx="5.40" ry="1.65" fill="#fff" stroke="#000" stroke-width="1.0" stroke-linejoin="round" stroke-linecap="round"/><ellipse cx="518.50" cy="986.80" rx="5.40" ry="1.65" fill="#fff" stroke="#000" stroke-width="1.0" stroke-linejoin="round" stroke-linecap="round"/><ellipse cx="518.50" cy="989.80" rx="5.40" ry="1.65" fill="#fff" stroke="#000" stroke-width="1.0" stroke-linejoin="round" stroke-linecap="round"/><ellipse cx="518.50" cy="992.80" rx="5.40" ry="1.65" fill="#fff" stroke="#000" stroke-width="1.0" stroke-linejoin="round" stroke-linecap="round"/><ellipse cx="518.50" cy="995.80" rx="5.40" ry="1.65" fill="#fff" stroke="#000" stroke-width="1.0" stroke-linejoin="round" stroke-linecap="round"/><ellipse cx="518.50" cy="998.80" rx="5.40" ry="1.65" fill="#fff" stroke="#000" stroke-width="1.0" stroke-linejoin="round" stroke-linecap="round"/><ellipse cx="518.50" cy="1001.80" rx="5.40" ry="1.65" fill="#fff" stroke="#000" stroke-width="1.0" stroke-linejoin="round" stroke-linecap="round"/><ellipse cx="518.50" cy="1004.80" rx="5.40" ry="1.65" fill="#fff" stroke="#000" stroke-width="1.0" stroke-linejoin="round" stroke-linecap="round"/><ellipse cx="518.50" cy="1007.80" rx="5.40" ry="1.65" fill="#fff" stroke="#000" stroke-width="1.0" stroke-linejoin="round" stroke-linecap="round"/><ellipse cx="518.50" cy="1010.80" rx="5.40" ry="1.65" fill="#fff" stroke="#000" stroke-width="1.0" stroke-linejoin="round" stroke-linecap="round"/><ellipse cx="518.50" cy="1013.80" rx="5.40" ry="1.65" fill="#fff" stroke="#000" stroke-width="1.0" stroke-linejoin="round" stroke-linecap="round"/><ellipse cx="518.50" cy="1016.80" rx="5.40" ry="1.65" fill="#fff" stroke="#000" stroke-width="1.0" stroke-linejoin="round" stroke-linecap="round"/><ellipse cx="518.50" cy="1019.80" rx="5.40" ry="1.65" fill="#fff" stroke="#000" stroke-width="1.0" stroke-linejoin="round" stroke-linecap="round"/><ellipse cx="518.50" cy="1022.80" rx="5.40" ry="1.65" fill="#fff" stroke="#000" stroke-width="1.0" stroke-linejoin="round" stroke-linecap="round"/>
<path d="M 506.70,975.50 L 506.70,982.00 A 11.80,4.50 0 0 0 530.30,982.00 L 530.30,975.50 A 11.80,4.50 0 0 0 506.70,975.50 Z" fill="#fff" stroke="#000" stroke-width="1.8" stroke-linejoin="round" stroke-linecap="round"/><path d="M 507.53,977.08 L 513.19,979.33 L 523.81,979.33 L 529.47,977.08" fill="none" stroke="#000" stroke-width="0.9" stroke-linejoin="round" stroke-linecap="round"/><path d="M 513.19,979.33 L 513.19,985.83" fill="none" stroke="#000" stroke-width="0.9" stroke-linejoin="round" stroke-linecap="round"/><path d="M 523.81,979.33 L 523.81,985.83" fill="none" stroke="#000" stroke-width="0.9" stroke-linejoin="round" stroke-linecap="round"/>
<path d="M 503.4,1047 L 504,1051 Q 519.2,1063 534.4,1051 L 535,1047" fill="#fff" stroke="#000" stroke-width="2.2" stroke-linejoin="round" stroke-linecap="round"/>
<ellipse cx="519.20" cy="1047.00" rx="15.80" ry="6.30" fill="#fff" stroke="#000" stroke-width="2.0" stroke-linejoin="round" stroke-linecap="round"/><ellipse cx="519.20" cy="1046.50" rx="6.30" ry="2.70" fill="#fff" stroke="#000" stroke-width="1.6" stroke-linejoin="round" stroke-linecap="round"/>
<path d="M 509,1055 Q 519,1059 529,1055" fill="none" stroke="#000" stroke-width="1.0" stroke-linejoin="round" stroke-linecap="round"/>
<g transform="translate(360,960) scale(0.276873)"><path d="M 15,205 L 12,188 Q 30,162 90,155 L 320,288 L 490,348 L 700,462 Q 705,485 690,497 L 630,505 L 415,392 L 252,328 Z" fill="#fff" stroke="#000" stroke-width="3.2" stroke-linejoin="round" stroke-linecap="round" vector-effect="non-scaling-stroke"/><path d="M 15,205 L 40,200 L 250,312 L 320,288" fill="none" stroke="#000" stroke-width="1.1" stroke-linejoin="round" stroke-linecap="round" vector-effect="non-scaling-stroke"/><path d="M 250,312 L 252,328" fill="none" stroke="#000" stroke-width="1.1" stroke-linejoin="round" stroke-linecap="round" vector-effect="non-scaling-stroke"/><path d="M 250,312 L 418,375 L 490,348" fill="none" stroke="#000" stroke-width="1.1" stroke-linejoin="round" stroke-linecap="round" vector-effect="non-scaling-stroke"/><path d="M 418,375 L 415,392" fill="none" stroke="#000" stroke-width="1.1" stroke-linejoin="round" stroke-linecap="round" vector-effect="non-scaling-stroke"/><path d="M 418,375 L 690,487 L 700,462" fill="none" stroke="#000" stroke-width="1.1" stroke-linejoin="round" stroke-linecap="round" vector-effect="non-scaling-stroke"/><ellipse cx="70" cy="185" rx="20" ry="12" fill="none" stroke="#000" stroke-width="1.4" stroke-linejoin="round" stroke-linecap="round" vector-effect="non-scaling-stroke"/><ellipse cx="245" cy="282" rx="20" ry="12" fill="none" stroke="#000" stroke-width="1.4" stroke-linejoin="round" stroke-linecap="round" vector-effect="non-scaling-stroke"/><ellipse cx="570" cy="437" rx="22" ry="13" fill="none" stroke="#000" stroke-width="2.4" stroke-linejoin="round" stroke-linecap="round" vector-effect="non-scaling-stroke"/><ellipse cx="570" cy="437" rx="10" ry="6" fill="none" stroke="#000" stroke-width="1.2" stroke-linejoin="round" stroke-linecap="round" vector-effect="non-scaling-stroke"/></g>
<path d="M 366.90,1046.50 L 366.90,1057.00 A 11.90,5.20 0 0 0 390.70,1057.00 L 390.70,1046.50 A 11.90,5.20 0 0 0 366.90,1046.50 Z" fill="#fff" stroke="#000" stroke-width="1.7" stroke-linejoin="round" stroke-linecap="round"/><path d="M 367.73,1048.32 L 373.44,1050.92 L 384.16,1050.92 L 389.87,1048.32" fill="none" stroke="#000" stroke-width="0.9" stroke-linejoin="round" stroke-linecap="round"/><path d="M 373.44,1050.92 L 373.44,1061.42" fill="none" stroke="#000" stroke-width="0.9" stroke-linejoin="round" stroke-linecap="round"/><path d="M 384.16,1050.92 L 384.16,1061.42" fill="none" stroke="#000" stroke-width="0.9" stroke-linejoin="round" stroke-linecap="round"/><ellipse cx="378.80" cy="1046.24" rx="5.71" ry="2.86" fill="none" stroke="#000" stroke-width="1.53" stroke-linejoin="round" stroke-linecap="round"/><ellipse cx="378.80" cy="1046.24" rx="2.98" ry="1.46" fill="none" stroke="#000" stroke-width="0.8" stroke-linejoin="round" stroke-linecap="round"/>
<path d="M 414.00,1068.00 L 414.00,1078.80 A 12.00,5.20 0 0 0 438.00,1078.80 L 438.00,1068.00 A 12.00,5.20 0 0 0 414.00,1068.00 Z" fill="#fff" stroke="#000" stroke-width="1.7" stroke-linejoin="round" stroke-linecap="round"/><path d="M 414.84,1069.82 L 420.60,1072.42 L 431.40,1072.42 L 437.16,1069.82" fill="none" stroke="#000" stroke-width="0.9" stroke-linejoin="round" stroke-linecap="round"/><path d="M 420.60,1072.42 L 420.60,1083.22" fill="none" stroke="#000" stroke-width="0.9" stroke-linejoin="round" stroke-linecap="round"/><path d="M 431.40,1072.42 L 431.40,1083.22" fill="none" stroke="#000" stroke-width="0.9" stroke-linejoin="round" stroke-linecap="round"/><ellipse cx="426.00" cy="1067.74" rx="5.76" ry="2.86" fill="none" stroke="#000" stroke-width="1.53" stroke-linejoin="round" stroke-linecap="round"/><ellipse cx="426.00" cy="1067.74" rx="3.00" ry="1.46" fill="none" stroke="#000" stroke-width="0.8" stroke-linejoin="round" stroke-linecap="round"/>
<path d="M 423.30,1127.00 L 423.30,1161.90 L 432.10,1161.90 L 432.10,1127.00" fill="#fff" stroke="#000" stroke-width="1.1" stroke-linejoin="round" stroke-linecap="round"/><ellipse cx="427.70" cy="1128.62" rx="5.00" ry="1.49" fill="#fff" stroke="#000" stroke-width="1.0" stroke-linejoin="round" stroke-linecap="round"/><ellipse cx="427.70" cy="1131.32" rx="5.00" ry="1.49" fill="#fff" stroke="#000" stroke-width="1.0" stroke-linejoin="round" stroke-linecap="round"/><ellipse cx="427.70" cy="1134.02" rx="5.00" ry="1.49" fill="#fff" stroke="#000" stroke-width="1.0" stroke-linejoin="round" stroke-linecap="round"/><ellipse cx="427.70" cy="1136.72" rx="5.00" ry="1.49" fill="#fff" stroke="#000" stroke-width="1.0" stroke-linejoin="round" stroke-linecap="round"/><ellipse cx="427.70" cy="1139.42" rx="5.00" ry="1.49" fill="#fff" stroke="#000" stroke-width="1.0" stroke-linejoin="round" stroke-linecap="round"/><ellipse cx="427.70" cy="1142.12" rx="5.00" ry="1.49" fill="#fff" stroke="#000" stroke-width="1.0" stroke-linejoin="round" stroke-linecap="round"/><ellipse cx="427.70" cy="1144.82" rx="5.00" ry="1.49" fill="#fff" stroke="#000" stroke-width="1.0" stroke-linejoin="round" stroke-linecap="round"/><ellipse cx="427.70" cy="1147.52" rx="5.00" ry="1.49" fill="#fff" stroke="#000" stroke-width="1.0" stroke-linejoin="round" stroke-linecap="round"/><ellipse cx="427.70" cy="1150.22" rx="5.00" ry="1.49" fill="#fff" stroke="#000" stroke-width="1.0" stroke-linejoin="round" stroke-linecap="round"/><ellipse cx="427.70" cy="1152.92" rx="5.00" ry="1.49" fill="#fff" stroke="#000" stroke-width="1.0" stroke-linejoin="round" stroke-linecap="round"/><ellipse cx="427.70" cy="1155.62" rx="5.00" ry="1.49" fill="#fff" stroke="#000" stroke-width="1.0" stroke-linejoin="round" stroke-linecap="round"/><ellipse cx="427.70" cy="1158.32" rx="5.00" ry="1.49" fill="#fff" stroke="#000" stroke-width="1.0" stroke-linejoin="round" stroke-linecap="round"/><ellipse cx="427.70" cy="1161.02" rx="5.00" ry="1.49" fill="#fff" stroke="#000" stroke-width="1.0" stroke-linejoin="round" stroke-linecap="round"/>
<path d="M 417.60,1120.80 L 417.60,1126.00 A 10.10,4.30 0 0 0 437.80,1126.00 L 437.80,1120.80 A 10.10,4.30 0 0 0 417.60,1120.80 Z" fill="#fff" stroke="#000" stroke-width="1.7" stroke-linejoin="round" stroke-linecap="round"/><path d="M 418.31,1122.31 L 423.15,1124.45 L 432.25,1124.45 L 437.09,1122.31" fill="none" stroke="#000" stroke-width="0.9" stroke-linejoin="round" stroke-linecap="round"/><path d="M 423.15,1124.45 L 423.15,1129.65" fill="none" stroke="#000" stroke-width="0.9" stroke-linejoin="round" stroke-linecap="round"/><path d="M 432.25,1124.45 L 432.25,1129.65" fill="none" stroke="#000" stroke-width="0.9" stroke-linejoin="round" stroke-linecap="round"/>
<path d="M 367.20,1140.00 L 367.20,1173.20 L 375.40,1173.20 L 375.40,1140.00" fill="#fff" stroke="#000" stroke-width="1.1" stroke-linejoin="round" stroke-linecap="round"/><ellipse cx="371.30" cy="1141.62" rx="4.70" ry="1.49" fill="#fff" stroke="#000" stroke-width="1.0" stroke-linejoin="round" stroke-linecap="round"/><ellipse cx="371.30" cy="1144.32" rx="4.70" ry="1.49" fill="#fff" stroke="#000" stroke-width="1.0" stroke-linejoin="round" stroke-linecap="round"/><ellipse cx="371.30" cy="1147.02" rx="4.70" ry="1.49" fill="#fff" stroke="#000" stroke-width="1.0" stroke-linejoin="round" stroke-linecap="round"/><ellipse cx="371.30" cy="1149.72" rx="4.70" ry="1.49" fill="#fff" stroke="#000" stroke-width="1.0" stroke-linejoin="round" stroke-linecap="round"/><ellipse cx="371.30" cy="1152.42" rx="4.70" ry="1.49" fill="#fff" stroke="#000" stroke-width="1.0" stroke-linejoin="round" stroke-linecap="round"/><ellipse cx="371.30" cy="1155.12" rx="4.70" ry="1.49" fill="#fff" stroke="#000" stroke-width="1.0" stroke-linejoin="round" stroke-linecap="round"/><ellipse cx="371.30" cy="1157.82" rx="4.70" ry="1.49" fill="#fff" stroke="#000" stroke-width="1.0" stroke-linejoin="round" stroke-linecap="round"/><ellipse cx="371.30" cy="1160.52" rx="4.70" ry="1.49" fill="#fff" stroke="#000" stroke-width="1.0" stroke-linejoin="round" stroke-linecap="round"/><ellipse cx="371.30" cy="1163.22" rx="4.70" ry="1.49" fill="#fff" stroke="#000" stroke-width="1.0" stroke-linejoin="round" stroke-linecap="round"/><ellipse cx="371.30" cy="1165.92" rx="4.70" ry="1.49" fill="#fff" stroke="#000" stroke-width="1.0" stroke-linejoin="round" stroke-linecap="round"/><ellipse cx="371.30" cy="1168.62" rx="4.70" ry="1.49" fill="#fff" stroke="#000" stroke-width="1.0" stroke-linejoin="round" stroke-linecap="round"/><ellipse cx="371.30" cy="1171.32" rx="4.70" ry="1.49" fill="#fff" stroke="#000" stroke-width="1.0" stroke-linejoin="round" stroke-linecap="round"/>
<path d="M 361.60,1134.60 L 361.60,1139.20 A 10.10,4.30 0 0 0 381.80,1139.20 L 381.80,1134.60 A 10.10,4.30 0 0 0 361.60,1134.60 Z" fill="#fff" stroke="#000" stroke-width="1.7" stroke-linejoin="round" stroke-linecap="round"/><path d="M 362.31,1136.11 L 367.15,1138.25 L 376.25,1138.25 L 381.09,1136.11" fill="none" stroke="#000" stroke-width="0.9" stroke-linejoin="round" stroke-linecap="round"/><path d="M 367.15,1138.25 L 367.15,1142.85" fill="none" stroke="#000" stroke-width="0.9" stroke-linejoin="round" stroke-linecap="round"/><path d="M 376.25,1138.25 L 376.25,1142.85" fill="none" stroke="#000" stroke-width="0.9" stroke-linejoin="round" stroke-linecap="round"/>
<path d="M 336.8,1179.5 L 349.4,1173.2 L 441.6,1209.8 L 442.3,1226.2 L 432.8,1232.5 L 335.6,1197.2 Z" fill="#fff" stroke="#000" stroke-width="3.2" stroke-linejoin="round" stroke-linecap="round"/>
<path d="M 336.80,1181.00 L 432.00,1216.50 L 441.60,1209.80" fill="none" stroke="#000" stroke-width="1.0" stroke-linejoin="round" stroke-linecap="round"/>
<path d="M 432.00,1216.50 L 432.80,1232.50" fill="none" stroke="#000" stroke-width="1.0" stroke-linejoin="round" stroke-linecap="round"/>
<ellipse cx="373.40" cy="1188.90" rx="3.50" ry="2.20" fill="none" stroke="#000" stroke-width="1.1" stroke-linejoin="round" stroke-linecap="round"/><ellipse cx="427.70" cy="1211.00" rx="3.50" ry="2.20" fill="none" stroke="#000" stroke-width="1.1" stroke-linejoin="round" stroke-linecap="round"/>
<g transform="translate(240,1210) scale(0.097720)"><path d="M 370,305 L 410,322" fill="none" stroke="#000" stroke-width="1.0" stroke-linejoin="round" stroke-linecap="round" vector-effect="non-scaling-stroke"/><ellipse cx="225" cy="178" rx="13" ry="38" transform="rotate(-32 225 178)" fill="#fff" stroke="#000" stroke-width="1.2" stroke-linejoin="round" stroke-linecap="round" vector-effect="non-scaling-stroke"/><ellipse cx="251" cy="194" rx="13" ry="38" transform="rotate(-32 251 194)" fill="#fff" stroke="#000" stroke-width="1.2" stroke-linejoin="round" stroke-linecap="round" vector-effect="non-scaling-stroke"/><ellipse cx="277" cy="210" rx="13" ry="38" transform="rotate(-32 277 210)" fill="#fff" stroke="#000" stroke-width="1.2" stroke-linejoin="round" stroke-linecap="round" vector-effect="non-scaling-stroke"/><ellipse cx="303" cy="226" rx="13" ry="38" transform="rotate(-32 303 226)" fill="#fff" stroke="#000" stroke-width="1.2" stroke-linejoin="round" stroke-linecap="round" vector-effect="non-scaling-stroke"/><ellipse cx="329" cy="242" rx="13" ry="38" transform="rotate(-32 329 242)" fill="#fff" stroke="#000" stroke-width="1.2" stroke-linejoin="round" stroke-linecap="round" vector-effect="non-scaling-stroke"/><ellipse cx="355" cy="258" rx="13" ry="38" transform="rotate(-32 355 258)" fill="#fff" stroke="#000" stroke-width="1.2" stroke-linejoin="round" stroke-linecap="round" vector-effect="non-scaling-stroke"/><path d="M 100,165 Q 115,95 190,78 Q 255,80 280,135 Q 292,200 240,255 Q 185,290 130,268 Q 88,240 100,165 Z" fill="#fff" stroke="#000" stroke-width="2.2" stroke-linejoin="round" stroke-linecap="round" vector-effect="non-scaling-stroke"/><path d="M 135,115 Q 110,180 135,255 M 135,115 L 200,100 M 135,255 L 185,262 M 200,100 L 250,120" fill="none" stroke="#000" stroke-width="1.1" stroke-linejoin="round" stroke-linecap="round" vector-effect="non-scaling-stroke"/><path d="M 205,175 Q 195,210 215,235" fill="none" stroke="#000" stroke-width="1.1" stroke-linejoin="round" stroke-linecap="round" vector-effect="non-scaling-stroke"/><path d="M 400,520 Q 350,560 365,615 Q 385,670 450,660 L 600,605 L 605,590 L 560,595 Q 515,580 520,530 L 570,470" fill="#fff" stroke="#000" stroke-width="1.9" stroke-linejoin="round" stroke-linecap="round" vector-effect="non-scaling-stroke"/><path d="M 402,322 L 582,232 L 590,432 L 415,515 Z" fill="#fff" stroke="#000" stroke-width="2.2" stroke-linejoin="round" stroke-linecap="round" vector-effect="non-scaling-stroke"/><ellipse cx="505" cy="368" rx="38" ry="46" fill="none" stroke="#000" stroke-width="1.6" stroke-linejoin="round" stroke-linecap="round" vector-effect="non-scaling-stroke"/><ellipse cx="498" cy="375" rx="22" ry="30" fill="none" stroke="#000" stroke-width="1.0" stroke-linejoin="round" stroke-linecap="round" vector-effect="non-scaling-stroke"/><path d="M 500,380 L 590,435 L 880,590" fill="none" stroke="#000" stroke-width="1.1" stroke-linejoin="round" stroke-linecap="round" vector-effect="non-scaling-stroke"/><path d="M 540,668 L 582,650 L 645,698 L 1072,522 L 1105,548 L 1165,878 L 722,1090 L 605,1088 L 540,1042 L 535,995 L 565,975 L 500,918 L 478,890 L 498,862 L 508,820 Z" fill="#fff" stroke="#000" stroke-width="3.0" stroke-linejoin="round" stroke-linecap="round" vector-effect="non-scaling-stroke"/><path d="M 600,692 L 642,742 L 1070,555 L 1105,548" fill="none" stroke="#000" stroke-width="1.1" stroke-linejoin="round" stroke-linecap="round" vector-effect="non-scaling-stroke"/><path d="M 1070,555 L 1128,880" fill="none" stroke="#000" stroke-width="1.1" stroke-linejoin="round" stroke-linecap="round" vector-effect="non-scaling-stroke"/><path d="M 500,860 L 620,892 Q 645,905 625,930 L 600,940 L 505,915 Z" fill="#222" stroke="#000" stroke-width="1.6" stroke-linejoin="round" stroke-linecap="round" vector-effect="non-scaling-stroke"/><path d="M 575,990 L 802,892 L 772,1048 L 700,1085" fill="none" stroke="#000" stroke-width="1.1" stroke-linejoin="round" stroke-linecap="round" vector-effect="non-scaling-stroke"/><path d="M 575,990 L 620,1040" fill="none" stroke="#000" stroke-width="1.1" stroke-linejoin="round" stroke-linecap="round" vector-effect="non-scaling-stroke"/><ellipse cx="800" cy="742" rx="40" ry="38" fill="none" stroke="#000" stroke-width="1.6" stroke-linejoin="round" stroke-linecap="round" vector-effect="non-scaling-stroke"/><ellipse cx="800" cy="742" rx="22" ry="20" fill="none" stroke="#000" stroke-width="1.0" stroke-linejoin="round" stroke-linecap="round" vector-effect="non-scaling-stroke"/><ellipse cx="1005" cy="648" rx="26" ry="40" transform="rotate(35 1005 648)" fill="none" stroke="#000" stroke-width="1.6" stroke-linejoin="round" stroke-linecap="round" vector-effect="non-scaling-stroke"/><ellipse cx="668" cy="1010" rx="42" ry="32" fill="none" stroke="#000" stroke-width="1.6" stroke-linejoin="round" stroke-linecap="round" vector-effect="non-scaling-stroke"/><ellipse cx="668" cy="1010" rx="22" ry="16" fill="#222" stroke="#000" stroke-width="1.0" stroke-linejoin="round" stroke-linecap="round" vector-effect="non-scaling-stroke"/><path d="M 1010,660 L 1228,790" fill="none" stroke="#000" stroke-width="1.1" stroke-linejoin="round" stroke-linecap="round" vector-effect="non-scaling-stroke"/></g>
<path d="M 917.60,1172.00 L 917.60,1182.60 A 13.70,5.50 0 0 0 945.00,1182.60 L 945.00,1172.00 A 13.70,5.50 0 0 0 917.60,1172.00 Z" fill="#fff" stroke="#000" stroke-width="1.9" stroke-linejoin="round" stroke-linecap="round"/><path d="M 918.56,1173.92 L 925.13,1176.67 L 937.46,1176.67 L 944.04,1173.92" fill="none" stroke="#000" stroke-width="0.9" stroke-linejoin="round" stroke-linecap="round"/><path d="M 925.13,1176.67 L 925.13,1187.27" fill="none" stroke="#000" stroke-width="0.9" stroke-linejoin="round" stroke-linecap="round"/><path d="M 937.46,1176.67 L 937.46,1187.27" fill="none" stroke="#000" stroke-width="0.9" stroke-linejoin="round" stroke-linecap="round"/><ellipse cx="931.30" cy="1171.72" rx="6.58" ry="3.03" fill="none" stroke="#000" stroke-width="1.71" stroke-linejoin="round" stroke-linecap="round"/><ellipse cx="931.30" cy="1171.72" rx="3.42" ry="1.54" fill="none" stroke="#000" stroke-width="0.8" stroke-linejoin="round" stroke-linecap="round"/>
<path d="M 917.60,1203.20 L 917.60,1207.20 A 13.70,5.60 0 0 0 945.00,1207.20 L 945.00,1203.20 A 13.70,5.60 0 0 0 917.60,1203.20 Z" fill="#fff" stroke="#000" stroke-width="1.9" stroke-linejoin="round" stroke-linecap="round"/><path d="M 917.60,1203.20 A 13.70,5.60 0 0 0 945.00,1203.20" fill="none" stroke="#000" stroke-width="0.9" stroke-linejoin="round" stroke-linecap="round"/><ellipse cx="931.30" cy="1203.20" rx="7.50" ry="3.00" fill="#fff" stroke="#000" stroke-width="1.71" stroke-linejoin="round" stroke-linecap="round"/>
<path d="M 893.8,1261.3 L 893.8,1263.3 A 36.7,17.7 0 0 0 967.2,1263.3 L 967.2,1261.3 Z" fill="#fff" stroke="#000" stroke-width="2.2" stroke-linejoin="round" stroke-linecap="round"/><ellipse cx="930.50" cy="1261.30" rx="36.70" ry="17.70" fill="#fff" stroke="#000" stroke-width="2.2" stroke-linejoin="round" stroke-linecap="round"/><ellipse cx="930.50" cy="1258.30" rx="32.70" ry="15.50" fill="#fff" stroke="#000" stroke-width="1.4" stroke-linejoin="round" stroke-linecap="round"/><path d="M 893.8,1247.3 L 893.8,1250.3 A 36.7,17.7 0 0 0 967.2,1250.3 L 967.2,1247.3 Z" fill="#fff" stroke="#000" stroke-width="2.2" stroke-linejoin="round" stroke-linecap="round"/><ellipse cx="930.50" cy="1247.30" rx="36.70" ry="17.70" fill="#fff" stroke="#000" stroke-width="2.4" stroke-linejoin="round" stroke-linecap="round"/><ellipse cx="930.50" cy="1247.30" rx="34.20" ry="16.20" fill="none" stroke="#000" stroke-width="1.0" stroke-linejoin="round" stroke-linecap="round"/><ellipse cx="930.50" cy="1247.30" rx="17.25" ry="8.32" fill="none" stroke="#000" stroke-width="1.2" stroke-linejoin="round" stroke-linecap="round"/><ellipse cx="930.50" cy="1247.30" rx="13.95" ry="6.73" fill="none" stroke="#000" stroke-width="1.0" stroke-linejoin="round" stroke-linecap="round"/><path d="M 947.75,1247.30 L 964.70,1247.30" fill="none" stroke="#000" stroke-width="0.9" stroke-linejoin="round" stroke-linecap="round"/><path d="M 947.16,1249.45 L 963.53,1251.49" fill="none" stroke="#000" stroke-width="0.9" stroke-linejoin="round" stroke-linecap="round"/><path d="M 945.44,1251.46 L 960.12,1255.40" fill="none" stroke="#000" stroke-width="0.9" stroke-linejoin="round" stroke-linecap="round"/><path d="M 942.70,1253.18 L 954.68,1258.76" fill="none" stroke="#000" stroke-width="0.9" stroke-linejoin="round" stroke-linecap="round"/><path d="M 939.12,1254.50 L 947.60,1261.33" fill="none" stroke="#000" stroke-width="0.9" stroke-linejoin="round" stroke-linecap="round"/><path d="M 934.96,1255.34 L 939.35,1262.95" fill="none" stroke="#000" stroke-width="0.9" stroke-linejoin="round" stroke-linecap="round"/><path d="M 930.50,1255.62 L 930.50,1263.50" fill="none" stroke="#000" stroke-width="0.9" stroke-linejoin="round" stroke-linecap="round"/><path d="M 926.04,1255.34 L 921.65,1262.95" fill="none" stroke="#000" stroke-width="0.9" stroke-linejoin="round" stroke-linecap="round"/><path d="M 921.88,1254.50 L 913.40,1261.33" fill="none" stroke="#000" stroke-width="0.9" stroke-linejoin="round" stroke-linecap="round"/><path d="M 918.30,1253.18 L 906.32,1258.76" fill="none" stroke="#000" stroke-width="0.9" stroke-linejoin="round" stroke-linecap="round"/><path d="M 915.56,1251.46 L 900.88,1255.40" fill="none" stroke="#000" stroke-width="0.9" stroke-linejoin="round" stroke-linecap="round"/><path d="M 913.84,1249.45 L 897.47,1251.49" fill="none" stroke="#000" stroke-width="0.9" stroke-linejoin="round" stroke-linecap="round"/><path d="M 913.25,1247.30 L 896.30,1247.30" fill="none" stroke="#000" stroke-width="0.9" stroke-linejoin="round" stroke-linecap="round"/><path d="M 913.84,1245.15 L 897.47,1243.11" fill="none" stroke="#000" stroke-width="0.9" stroke-linejoin="round" stroke-linecap="round"/><path d="M 915.56,1243.14 L 900.88,1239.20" fill="none" stroke="#000" stroke-width="0.9" stroke-linejoin="round" stroke-linecap="round"/><path d="M 918.30,1241.42 L 906.32,1235.84" fill="none" stroke="#000" stroke-width="0.9" stroke-linejoin="round" stroke-linecap="round"/><path d="M 921.88,1240.10 L 913.40,1233.27" fill="none" stroke="#000" stroke-width="0.9" stroke-linejoin="round" stroke-linecap="round"/><path d="M 926.04,1239.26 L 921.65,1231.65" fill="none" stroke="#000" stroke-width="0.9" stroke-linejoin="round" stroke-linecap="round"/><path d="M 930.50,1238.98 L 930.50,1231.10" fill="none" stroke="#000" stroke-width="0.9" stroke-linejoin="round" stroke-linecap="round"/><path d="M 934.96,1239.26 L 939.35,1231.65" fill="none" stroke="#000" stroke-width="0.9" stroke-linejoin="round" stroke-linecap="round"/><path d="M 939.12,1240.10 L 947.60,1233.27" fill="none" stroke="#000" stroke-width="0.9" stroke-linejoin="round" stroke-linecap="round"/><path d="M 942.70,1241.42 L 954.68,1235.84" fill="none" stroke="#000" stroke-width="0.9" stroke-linejoin="round" stroke-linecap="round"/><path d="M 945.44,1243.14 L 960.12,1239.20" fill="none" stroke="#000" stroke-width="0.9" stroke-linejoin="round" stroke-linecap="round"/><path d="M 947.16,1245.15 L 963.53,1243.11" fill="none" stroke="#000" stroke-width="0.9" stroke-linejoin="round" stroke-linecap="round"/><ellipse cx="930.50" cy="1247.30" rx="8.81" ry="4.60" fill="#fff" stroke="#000" stroke-width="2.0" stroke-linejoin="round" stroke-linecap="round"/>
<path d="M 904.4,1293.4 L 917.8,1289.4 L 950,1308.2 L 949.5,1317.6 L 931.2,1329.7 L 934.5,1342.3 L 928.6,1348.5 L 907,1351.2 L 896.3,1344.5 L 860,1346 L 835.8,1349.9 Q 825,1354 819.7,1362 L 813,1371.4 L 796.9,1371.4 Q 789,1366 791,1360.6 Q 795,1353 813,1341.8 Q 830,1333 877.5,1331 L 909.7,1314.9 L 913.8,1306.9 L 904.4,1300.2 Z" fill="#fff" stroke="#000" stroke-width="2.4" stroke-linejoin="round" stroke-linecap="round"/>
<path d="M 909.70,1314.90 L 931.20,1329.70" fill="none" stroke="#000" stroke-width="1.0" stroke-linejoin="round" stroke-linecap="round"/><path d="M 913.80,1306.90 L 946.00,1318.00" fill="none" stroke="#000" stroke-width="1.0" stroke-linejoin="round" stroke-linecap="round"/>
<path d="M 905.00,1343.00 L 928.00,1340.00" fill="none" stroke="#000" stroke-width="1.0" stroke-linejoin="round" stroke-linecap="round"/>
<path d="M 796,1366 Q 800,1356 815,1350 Q 840,1339 880,1339 L 910,1323" fill="none" stroke="#000" stroke-width="0.9" stroke-linejoin="round" stroke-linecap="round"/>
<ellipse cx="804.90" cy="1362.00" rx="8.00" ry="4.00" fill="none" stroke="#000" stroke-width="1.6" stroke-linejoin="round" stroke-linecap="round"/><ellipse cx="804.90" cy="1362.00" rx="4.20" ry="2.00" fill="none" stroke="#000" stroke-width="1.0" stroke-linejoin="round" stroke-linecap="round"/>
<ellipse cx="930.60" cy="1310.50" rx="3.50" ry="2.00" fill="none" stroke="#000" stroke-width="1.2" stroke-linejoin="round" stroke-linecap="round"/>
<path d="M 808,1453 L 792,1457.5 Q 781,1461 782,1465.5 Q 785,1469.5 793,1466.5 L 797.5,1462.5" fill="none" stroke="#000" stroke-width="1.6" stroke-linejoin="round" stroke-linecap="round"/>
<path d="M 808,1456 L 793,1460.5" fill="none" stroke="#000" stroke-width="1.0" stroke-linejoin="round" stroke-linecap="round"/>
<path d="M 911,1392 L 927,1383 Q 934,1379 936,1383 Q 937,1388 930,1392 L 921,1397" fill="none" stroke="#000" stroke-width="1.6" stroke-linejoin="round" stroke-linecap="round"/>
<path d="M 912,1395 L 926,1387" fill="none" stroke="#000" stroke-width="1.0" stroke-linejoin="round" stroke-linecap="round"/>
<ellipse cx="912.00" cy="1392.50" rx="3.40" ry="9.80" fill="#fff" stroke="#000" stroke-width="1.4" stroke-linejoin="round" stroke-linecap="round" transform="rotate(-29.981639368849336 912.0 1392.5)"/><ellipse cx="907.05" cy="1395.36" rx="3.40" ry="9.80" fill="#fff" stroke="#000" stroke-width="1.4" stroke-linejoin="round" stroke-linecap="round" transform="rotate(-29.981639368849336 907.047619047619 1395.357142857143)"/><ellipse cx="902.10" cy="1398.21" rx="3.40" ry="9.80" fill="#fff" stroke="#000" stroke-width="1.4" stroke-linejoin="round" stroke-linecap="round" transform="rotate(-29.981639368849336 902.0952380952381 1398.2142857142858)"/><ellipse cx="897.14" cy="1401.07" rx="3.40" ry="9.80" fill="#fff" stroke="#000" stroke-width="1.4" stroke-linejoin="round" stroke-linecap="round" transform="rotate(-29.981639368849336 897.1428571428571 1401.0714285714287)"/><ellipse cx="892.19" cy="1403.93" rx="3.40" ry="9.80" fill="#fff" stroke="#000" stroke-width="1.4" stroke-linejoin="round" stroke-linecap="round" transform="rotate(-29.981639368849336 892.1904761904761 1403.9285714285713)"/><ellipse cx="887.24" cy="1406.79" rx="3.40" ry="9.80" fill="#fff" stroke="#000" stroke-width="1.4" stroke-linejoin="round" stroke-linecap="round" transform="rotate(-29.981639368849336 887.2380952380952 1406.7857142857142)"/><ellipse cx="882.29" cy="1409.64" rx="3.40" ry="9.80" fill="#fff" stroke="#000" stroke-width="1.4" stroke-linejoin="round" stroke-linecap="round" transform="rotate(-29.981639368849336 882.2857142857143 1409.642857142857)"/><ellipse cx="877.33" cy="1412.50" rx="3.40" ry="9.80" fill="#fff" stroke="#000" stroke-width="1.4" stroke-linejoin="round" stroke-linecap="round" transform="rotate(-29.981639368849336 877.3333333333334 1412.5)"/><ellipse cx="872.38" cy="1415.36" rx="3.40" ry="9.80" fill="#fff" stroke="#000" stroke-width="1.4" stroke-linejoin="round" stroke-linecap="round" transform="rotate(-29.981639368849336 872.3809523809524 1415.357142857143)"/><ellipse cx="867.43" cy="1418.21" rx="3.40" ry="9.80" fill="#fff" stroke="#000" stroke-width="1.4" stroke-linejoin="round" stroke-linecap="round" transform="rotate(-29.981639368849336 867.4285714285714 1418.2142857142858)"/><ellipse cx="862.48" cy="1421.07" rx="3.40" ry="9.80" fill="#fff" stroke="#000" stroke-width="1.4" stroke-linejoin="round" stroke-linecap="round" transform="rotate(-29.981639368849336 862.4761904761905 1421.0714285714287)"/><ellipse cx="857.52" cy="1423.93" rx="3.40" ry="9.80" fill="#fff" stroke="#000" stroke-width="1.4" stroke-linejoin="round" stroke-linecap="round" transform="rotate(-29.981639368849336 857.5238095238095 1423.9285714285713)"/><ellipse cx="852.57" cy="1426.79" rx="3.40" ry="9.80" fill="#fff" stroke="#000" stroke-width="1.4" stroke-linejoin="round" stroke-linecap="round" transform="rotate(-29.981639368849336 852.5714285714286 1426.7857142857142)"/><ellipse cx="847.62" cy="1429.64" rx="3.40" ry="9.80" fill="#fff" stroke="#000" stroke-width="1.4" stroke-linejoin="round" stroke-linecap="round" transform="rotate(-29.981639368849336 847.6190476190476 1429.642857142857)"/><ellipse cx="842.67" cy="1432.50" rx="3.40" ry="9.80" fill="#fff" stroke="#000" stroke-width="1.4" stroke-linejoin="round" stroke-linecap="round" transform="rotate(-29.981639368849336 842.6666666666666 1432.5)"/><ellipse cx="837.71" cy="1435.36" rx="3.40" ry="9.80" fill="#fff" stroke="#000" stroke-width="1.4" stroke-linejoin="round" stroke-linecap="round" transform="rotate(-29.981639368849336 837.7142857142857 1435.357142857143)"/><ellipse cx="832.76" cy="1438.21" rx="3.40" ry="9.80" fill="#fff" stroke="#000" stroke-width="1.4" stroke-linejoin="round" stroke-linecap="round" transform="rotate(-29.981639368849336 832.7619047619048 1438.2142857142858)"/><ellipse cx="827.81" cy="1441.07" rx="3.40" ry="9.80" fill="#fff" stroke="#000" stroke-width="1.4" stroke-linejoin="round" stroke-linecap="round" transform="rotate(-29.981639368849336 827.8095238095239 1441.0714285714287)"/><ellipse cx="822.86" cy="1443.93" rx="3.40" ry="9.80" fill="#fff" stroke="#000" stroke-width="1.4" stroke-linejoin="round" stroke-linecap="round" transform="rotate(-29.981639368849336 822.8571428571429 1443.9285714285713)"/><ellipse cx="817.90" cy="1446.79" rx="3.40" ry="9.80" fill="#fff" stroke="#000" stroke-width="1.4" stroke-linejoin="round" stroke-linecap="round" transform="rotate(-29.981639368849336 817.9047619047619 1446.7857142857142)"/><ellipse cx="812.95" cy="1449.64" rx="3.40" ry="9.80" fill="#fff" stroke="#000" stroke-width="1.4" stroke-linejoin="round" stroke-linecap="round" transform="rotate(-29.981639368849336 812.952380952381 1449.642857142857)"/><ellipse cx="808.00" cy="1452.50" rx="3.40" ry="9.80" fill="#fff" stroke="#000" stroke-width="1.4" stroke-linejoin="round" stroke-linecap="round" transform="rotate(-29.981639368849336 808.0 1452.5)"/>
<path d="M 914.50,1429.00 L 914.50,1466.00 L 924.50,1466.00 L 924.50,1429.00" fill="#fff" stroke="#000" stroke-width="1.1" stroke-linejoin="round" stroke-linecap="round"/><ellipse cx="919.50" cy="1430.68" rx="5.60" ry="1.54" fill="#fff" stroke="#000" stroke-width="1.0" stroke-linejoin="round" stroke-linecap="round"/><ellipse cx="919.50" cy="1433.48" rx="5.60" ry="1.54" fill="#fff" stroke="#000" stroke-width="1.0" stroke-linejoin="round" stroke-linecap="round"/><ellipse cx="919.50" cy="1436.28" rx="5.60" ry="1.54" fill="#fff" stroke="#000" stroke-width="1.0" stroke-linejoin="round" stroke-linecap="round"/><ellipse cx="919.50" cy="1439.08" rx="5.60" ry="1.54" fill="#fff" stroke="#000" stroke-width="1.0" stroke-linejoin="round" stroke-linecap="round"/><ellipse cx="919.50" cy="1441.88" rx="5.60" ry="1.54" fill="#fff" stroke="#000" stroke-width="1.0" stroke-linejoin="round" stroke-linecap="round"/><ellipse cx="919.50" cy="1444.68" rx="5.60" ry="1.54" fill="#fff" stroke="#000" stroke-width="1.0" stroke-linejoin="round" stroke-linecap="round"/><ellipse cx="919.50" cy="1447.48" rx="5.60" ry="1.54" fill="#fff" stroke="#000" stroke-width="1.0" stroke-linejoin="round" stroke-linecap="round"/><ellipse cx="919.50" cy="1450.28" rx="5.60" ry="1.54" fill="#fff" stroke="#000" stroke-width="1.0" stroke-linejoin="round" stroke-linecap="round"/><ellipse cx="919.50" cy="1453.08" rx="5.60" ry="1.54" fill="#fff" stroke="#000" stroke-width="1.0" stroke-linejoin="round" stroke-linecap="round"/><ellipse cx="919.50" cy="1455.88" rx="5.60" ry="1.54" fill="#fff" stroke="#000" stroke-width="1.0" stroke-linejoin="round" stroke-linecap="round"/><ellipse cx="919.50" cy="1458.68" rx="5.60" ry="1.54" fill="#fff" stroke="#000" stroke-width="1.0" stroke-linejoin="round" stroke-linecap="round"/><ellipse cx="919.50" cy="1461.48" rx="5.60" ry="1.54" fill="#fff" stroke="#000" stroke-width="1.0" stroke-linejoin="round" stroke-linecap="round"/><ellipse cx="919.50" cy="1464.28" rx="5.60" ry="1.54" fill="#fff" stroke="#000" stroke-width="1.0" stroke-linejoin="round" stroke-linecap="round"/>
<path d="M 913.9,1429 Q 919.5,1425 925.1,1429" fill="none" stroke="#000" stroke-width="1.3" stroke-linejoin="round" stroke-linecap="round"/>
<path d="M 907,1471 L 907,1478 A 12.1,4.5 0 0 0 931.2,1478 L 931.2,1471 A 12.1,4.5 0 0 0 907,1471 Z" fill="#fff" stroke="#000" stroke-width="1.8" stroke-linejoin="round" stroke-linecap="round"/>
<ellipse cx="919.10" cy="1471.00" rx="12.10" ry="4.50" fill="#fff" stroke="#000" stroke-width="1.8" stroke-linejoin="round" stroke-linecap="round"/>
<path d="M 913.00,1475.00 L 913.00,1482.00" fill="none" stroke="#000" stroke-width="0.9" stroke-linejoin="round" stroke-linecap="round"/><path d="M 925.00,1475.00 L 925.00,1482.00" fill="none" stroke="#000" stroke-width="0.9" stroke-linejoin="round" stroke-linecap="round"/><path d="M 251.4,1462.2 L 265.3,1457.1 L 320.0,1489.5 L 328.5,1491.9 L 351.8,1476.6 L 360.2,1481.8 L 358.6,1471.8 L 396.2,1448.5 L 412.1,1440.0 L 479.9,1410.4 L 500.1,1410.4 L 502.6,1421.8 L 525.3,1413.0 L 545.0,1411.7 L 552.5,1384.4 L 580.6,1373.4 L 600.0,1384.6 L 617.0,1395.5 L 618.6,1404.8 L 627.9,1408.6 L 664.2,1393.2 L 694.4,1410.9 L 694.4,1447.3 L 753.2,1481.3 L 760.9,1494.5 L 766.3,1502.2 L 776.4,1525.4 L 776.4,1562.6 L 599.6,1645.1 L 606.3,1647.5 L 609.9,1654.7 L 612.6,1711.1 L 609.9,1713.8 L 597.4,1720.0 Q 510,1680 420,1629.6 Q 330,1578 246.8,1523.3 Z" fill="#fff" stroke="#000" stroke-width="4.6" stroke-linejoin="round" stroke-linecap="round"/>
<path d="M 265.3,1457.1 L 320,1489.5 Q 400,1536 440,1559 Q 520,1602 597.4,1643.9" fill="none" stroke="#000" stroke-width="4.2" stroke-linejoin="round" stroke-linecap="round"/>
<path d="M 268,1461 L 324,1494 Q 400,1540 440,1563 Q 520,1606 597,1648" fill="none" stroke="#000" stroke-width="0.9" stroke-linejoin="round" stroke-linecap="round"/>
<path d="M 270,1464 L 326,1497 Q 400,1543 440,1566 Q 520,1609 597,1651" fill="none" stroke="#000" stroke-width="0.9" stroke-linejoin="round" stroke-linecap="round"/>
<path d="M 257,1467 L 322,1505 Q 400,1550 440,1572 Q 520,1614 595.6,1654.7" fill="none" stroke="#000" stroke-width="0.9" stroke-linejoin="round" stroke-linecap="round"/>
<path d="M 595.6,1654.7 L 597,1718 M 599.5,1649 L 603,1656 L 604,1714 M 595.6,1654.7 L 599.5,1649" fill="none" stroke="#000" stroke-width="0.9" stroke-linejoin="round" stroke-linecap="round"/>
<ellipse cx="427.20" cy="1609.90" rx="1.80" ry="3.20" fill="none" stroke="#000" stroke-width="1.0" stroke-linejoin="round" stroke-linecap="round"/><ellipse cx="394.00" cy="1590.00" rx="2.00" ry="3.50" fill="none" stroke="#000" stroke-width="1.0" stroke-linejoin="round" stroke-linecap="round"/>
<path d="M 383.0,1532.0 L 389.9,1530.0 L 402.6,1523.6 L 412.1,1527.9 L 434.3,1518.3 L 437.5,1507.8 L 437.5,1495.0 L 430.1,1492.0 L 450.0,1482.3 L 548.3,1439.9 L 648.0,1491.4 L 651.1,1494.5 L 654.9,1533.2 L 661.9,1539.4 L 680.5,1537.8 L 692.8,1540.9" fill="none" stroke="#000" stroke-width="4.2" stroke-linejoin="round" stroke-linecap="round"/>
<path d="M 392.0,1487.1 L 418.5,1502.5 L 420.6,1513.0 L 432.2,1508.8" fill="none" stroke="#000" stroke-width="4.2" stroke-linejoin="round" stroke-linecap="round"/>
<path d="M 364.5,1473.9 L 376.1,1477.0 L 374.0,1496.1 L 366.6,1492.9" fill="none" stroke="#000" stroke-width="0.9" stroke-linejoin="round" stroke-linecap="round"/>
<path d="M 376.1,1477.0 L 407.9,1455.9 L 450.0,1440.0 L 497.6,1413.0" fill="none" stroke="#000" stroke-width="0.9" stroke-linejoin="round" stroke-linecap="round"/>
<path d="M 399.4,1451.6 L 407.9,1455.9" fill="none" stroke="#000" stroke-width="0.9" stroke-linejoin="round" stroke-linecap="round"/>
<path d="M 332.7,1494.0 L 351.8,1481.8 L 363.4,1485.5" fill="none" stroke="#000" stroke-width="0.9" stroke-linejoin="round" stroke-linecap="round"/>
<path d="M 341.2,1501.4 L 366.6,1499.8" fill="none" stroke="#000" stroke-width="0.9" stroke-linejoin="round" stroke-linecap="round"/>
<path d="M 351.8,1507.8 L 366.6,1500.3" fill="none" stroke="#000" stroke-width="0.9" stroke-linejoin="round" stroke-linecap="round"/>
<path d="M 374.0,1496.1 L 392.0,1487.1" fill="none" stroke="#000" stroke-width="0.9" stroke-linejoin="round" stroke-linecap="round"/>
<path d="M 374.0,1521.5 L 413.2,1503.5" fill="none" stroke="#000" stroke-width="0.9" stroke-linejoin="round" stroke-linecap="round"/>
<path d="M 407.0,1494.0 L 421.6,1488.0" fill="none" stroke="#000" stroke-width="0.9" stroke-linejoin="round" stroke-linecap="round"/>
<path d="M 427.0,1500.0 L 432.5,1505.0" fill="none" stroke="#000" stroke-width="0.9" stroke-linejoin="round" stroke-linecap="round"/>
<path d="M 485.0,1428.0 L 485.0,1466.0" fill="none" stroke="#000" stroke-width="0.9" stroke-linejoin="round" stroke-linecap="round"/>
<path d="M 485.0,1428.0 L 500.0,1423.0 L 520.0,1428.0" fill="none" stroke="#000" stroke-width="0.9" stroke-linejoin="round" stroke-linecap="round"/>
<path d="M 400.0,1525.0 L 411.0,1519.0" fill="none" stroke="#000" stroke-width="0.9" stroke-linejoin="round" stroke-linecap="round"/>
<ellipse cx="372.00" cy="1510.40" rx="3.30" ry="2.10" fill="none" stroke="#000" stroke-width="1.0" stroke-linejoin="round" stroke-linecap="round"/><ellipse cx="442.00" cy="1432.50" rx="3.50" ry="2.00" fill="none" stroke="#000" stroke-width="1.0" stroke-linejoin="round" stroke-linecap="round"/>
<path d="M 506,1420 Q 512,1426 516,1421 L 520,1430 Q 514,1434 508,1428 Z" fill="none" stroke="#000" stroke-width="1.0" stroke-linejoin="round" stroke-linecap="round"/>
<path d="M 455,1574 L 460,1568.1 L 468.5,1551 Q 475,1543 485.6,1541.1 L 508.4,1539.6 Q 520,1540 525.5,1542.5 Q 534,1540 534,1533.9 L 534,1525.4 Q 540,1517 551.1,1516.8 L 568.2,1516.8 Q 590,1524 605.6,1536.9 Q 615,1544 625.1,1547.3 Q 635,1551 644.7,1551.2 L 661.6,1551.2 Q 670,1549.5 677.3,1546 L 692.9,1539.5" fill="none" stroke="#000" stroke-width="4.2" stroke-linejoin="round" stroke-linecap="round"/>
<path d="M 539.7,1610.9 L 691.6,1540.8" fill="none" stroke="#000" stroke-width="4.2" stroke-linejoin="round" stroke-linecap="round"/>
<path d="M 519.8,1602.3 L 531.2,1576.7 Q 536,1569 545.4,1568.1 L 588.2,1562.4 Q 595,1563 599.6,1568.1 L 603,1570.8 L 617,1580.5" fill="none" stroke="#000" stroke-width="4.2" stroke-linejoin="round" stroke-linecap="round"/>
<path d="M 513,1600 L 526,1573 Q 532,1564 545,1563 L 588,1557 Q 596,1557 602,1562" fill="none" stroke="#000" stroke-width="0.9" stroke-linejoin="round" stroke-linecap="round"/>
<path d="M 539.7,1610.9 L 548,1605 L 563,1602 M 548,1605 L 560,1610" fill="none" stroke="#000" stroke-width="1.6" stroke-linejoin="round" stroke-linecap="round"/>
<path d="M 548.3,1454.1 L 548.3,1612.0" fill="none" stroke="#000" stroke-width="0.9" stroke-linejoin="round" stroke-linecap="round"/>
<path d="M 548.3,1454.1 L 652.0,1505.0" fill="none" stroke="#000" stroke-width="0.9" stroke-linejoin="round" stroke-linecap="round"/>
<path d="M 562.5,1477.0 L 562.5,1518.0" fill="none" stroke="#000" stroke-width="0.9" stroke-linejoin="round" stroke-linecap="round"/>
<path d="M 562.5,1477.0 L 654.0,1519.7" fill="none" stroke="#000" stroke-width="0.9" stroke-linejoin="round" stroke-linecap="round"/>
<path d="M 484.0,1545.0 L 570.0,1582.0" fill="none" stroke="#000" stroke-width="0.9" stroke-linejoin="round" stroke-linecap="round"/>
<path d="M 480.0,1553.0 L 558.0,1590.0" fill="none" stroke="#000" stroke-width="0.9" stroke-linejoin="round" stroke-linecap="round"/>
<path d="M 614.0,1577.0 L 690.0,1545.0 L 750.0,1520.0" fill="none" stroke="#000" stroke-width="0.9" stroke-linejoin="round" stroke-linecap="round"/>
<path d="M 600.0,1592.0 L 700.0,1550.0 L 776.0,1528.0" fill="none" stroke="#000" stroke-width="0.9" stroke-linejoin="round" stroke-linecap="round"/>
<path d="M 600.0,1400.0 L 617.0,1395.5" fill="none" stroke="#000" stroke-width="0.9" stroke-linejoin="round" stroke-linecap="round"/>
<path d="M 600.0,1464.3 L 648.0,1491.4" fill="none" stroke="#000" stroke-width="0.9" stroke-linejoin="round" stroke-linecap="round"/>
<path d="M 600.0,1484.0 L 648.0,1508.0" fill="none" stroke="#000" stroke-width="0.9" stroke-linejoin="round" stroke-linecap="round"/>
<ellipse cx="517.80" cy="1554.50" rx="3.50" ry="2.20" fill="none" stroke="#000" stroke-width="1.0" stroke-linejoin="round" stroke-linecap="round"/><ellipse cx="561.80" cy="1524.00" rx="3.50" ry="2.20" fill="none" stroke="#000" stroke-width="1.0" stroke-linejoin="round" stroke-linecap="round"/><ellipse cx="580.40" cy="1545.00" rx="3.50" ry="2.20" fill="none" stroke="#000" stroke-width="1.0" stroke-linejoin="round" stroke-linecap="round"/>
<path d="M 552.5,1384.4 L 555.0,1416.2 L 566.0,1418.6 L 600.2,1424.0 L 617.3,1418.6 L 618.6,1404.8" fill="none" stroke="#000" stroke-width="4.2" stroke-linejoin="round" stroke-linecap="round"/>
<path d="M 556.2,1389.3 L 566.0,1395.4 L 612.4,1396.6 L 617.0,1395.5" fill="none" stroke="#000" stroke-width="0.9" stroke-linejoin="round" stroke-linecap="round"/>
<path d="M 566.0,1395.4 L 566.0,1418.6" fill="none" stroke="#000" stroke-width="0.9" stroke-linejoin="round" stroke-linecap="round"/><path d="M 600.2,1400.3 L 600.2,1424.0" fill="none" stroke="#000" stroke-width="0.9" stroke-linejoin="round" stroke-linecap="round"/>
<ellipse cx="577.00" cy="1384.60" rx="2.80" ry="1.80" fill="none" stroke="#000" stroke-width="1.0" stroke-linejoin="round" stroke-linecap="round"/><ellipse cx="591.60" cy="1393.20" rx="2.80" ry="1.80" fill="none" stroke="#000" stroke-width="1.0" stroke-linejoin="round" stroke-linecap="round"/>
<path d="M 545.0,1411.7 L 547.0,1424.0 L 555.0,1425.0 L 624.0,1447.0 L 651.0,1457.4" fill="none" stroke="#000" stroke-width="0.9" stroke-linejoin="round" stroke-linecap="round"/>
<ellipse cx="551.00" cy="1422.50" rx="2.80" ry="1.80" fill="none" stroke="#000" stroke-width="1.0" stroke-linejoin="round" stroke-linecap="round"/>
<path d="M 623.2,1410.9 L 621.7,1444.2 L 615.5,1444.2 L 651.0,1458.5 L 694.4,1447.3" fill="none" stroke="#000" stroke-width="2.6" stroke-linejoin="round" stroke-linecap="round"/>
<path d="M 624.8,1414.8 L 651.1,1426.4 L 691.3,1412.5" fill="none" stroke="#000" stroke-width="0.9" stroke-linejoin="round" stroke-linecap="round"/>
<path d="M 651.1,1426.4 L 650.3,1457.4" fill="none" stroke="#000" stroke-width="0.9" stroke-linejoin="round" stroke-linecap="round"/><path d="M 666.5,1421.8 L 673.0,1421.0 L 673.0,1451.2" fill="none" stroke="#000" stroke-width="0.9" stroke-linejoin="round" stroke-linecap="round"/>
<ellipse cx="637.90" cy="1439.60" rx="8.60" ry="11.00" fill="none" stroke="#000" stroke-width="1.5" stroke-linejoin="round" stroke-linecap="round"/><ellipse cx="638.90" cy="1439.60" rx="7.00" ry="9.40" fill="none" stroke="#000" stroke-width="0.9" stroke-linejoin="round" stroke-linecap="round"/>
<path d="M 662,1469 Q 658,1474 664,1478 L 708,1493 Q 716,1494 715.5,1488 Q 715,1484 708,1481 L 670,1467 Q 665,1466 662,1469 Z" fill="none" stroke="#000" stroke-width="2.8" stroke-linejoin="round" stroke-linecap="round"/>
<path d="M 667,1471 L 709,1486" fill="none" stroke="#000" stroke-width="0.9" stroke-linejoin="round" stroke-linecap="round"/>
<path d="M 655.5,1513.0 L 686.6,1502.2 L 708.3,1503.8 L 751.6,1483.7" fill="none" stroke="#000" stroke-width="0.9" stroke-linejoin="round" stroke-linecap="round"/>
<path d="M 686.6,1502.2 L 692.0,1535.0 L 700.0,1540.0" fill="none" stroke="#000" stroke-width="0.9" stroke-linejoin="round" stroke-linecap="round"/>
<path d="M 708.3,1503.8 L 716.0,1542.5 L 716.0,1570.0" fill="none" stroke="#000" stroke-width="0.9" stroke-linejoin="round" stroke-linecap="round"/>
<path d="M 716.0,1542.5 L 773.3,1528.5" fill="none" stroke="#000" stroke-width="0.9" stroke-linejoin="round" stroke-linecap="round"/>
<path d="M 716.0,1551.5 L 776.0,1540.0" fill="none" stroke="#000" stroke-width="0.9" stroke-linejoin="round" stroke-linecap="round"/>
<path d="M 700.0,1540.0 L 716.0,1542.5" fill="none" stroke="#000" stroke-width="0.9" stroke-linejoin="round" stroke-linecap="round"/>
<path d="M 662.0,1534.0 L 700.0,1545.0" fill="none" stroke="#000" stroke-width="0.9" stroke-linejoin="round" stroke-linecap="round"/>
<path d="M 708.3,1503.8 L 716.0,1542.5" fill="none" stroke="#000" stroke-width="2.2" stroke-linejoin="round" stroke-linecap="round"/>
<path d="M 693,1510 L 693,1519.5 Q 700,1524 707,1519.5 L 707,1510" fill="none" stroke="#000" stroke-width="1.0" stroke-linejoin="round" stroke-linecap="round"/><ellipse cx="700.00" cy="1510.00" rx="7.00" ry="3.20" fill="none" stroke="#000" stroke-width="1.0" stroke-linejoin="round" stroke-linecap="round"/>
<ellipse cx="667.30" cy="1525.40" rx="3.50" ry="2.20" fill="none" stroke="#000" stroke-width="1.0" stroke-linejoin="round" stroke-linecap="round"/><ellipse cx="757.00" cy="1543.20" rx="3.50" ry="2.20" fill="none" stroke="#000" stroke-width="1.0" stroke-linejoin="round" stroke-linecap="round"/><ellipse cx="726.90" cy="1558.00" rx="3.50" ry="2.20" fill="none" stroke="#000" stroke-width="1.0" stroke-linejoin="round" stroke-linecap="round"/>
<path d="M 371.5,1440.0 L 371.5,1509.0" fill="none" stroke="#222" stroke-width="1.0" stroke-linejoin="round" stroke-linecap="round"/>
<path d="M 518.5,1405.0 L 518.5,1552.0" fill="none" stroke="#222" stroke-width="1.0" stroke-linejoin="round" stroke-linecap="round"/>
<path d="M 591.5,1375.0 L 591.5,1392.0" fill="none" stroke="#222" stroke-width="1.0" stroke-linejoin="round" stroke-linecap="round"/>
<path d="M 757.5,1470.0 L 757.5,1541.0" fill="none" stroke="#222" stroke-width="1.0" stroke-linejoin="round" stroke-linecap="round"/>
<path d="M 776.0,1586.5 L 667.7,1517.0" fill="none" stroke="#222" stroke-width="1.0" stroke-linejoin="round" stroke-linecap="round"/>
<path d="M 776.0,1598.2 L 721.4,1561.0" fill="none" stroke="#222" stroke-width="1.0" stroke-linejoin="round" stroke-linecap="round"/><g transform="translate(200,1590) scale(0.162866)"><path d="M 770,85 L 810,70 L 1130,290 L 1112,460 Q 1100,505 1080,512 L 1000,540 L 700,575 Q 640,570 608,545 Q 582,515 600,440 L 700,280 L 745,238 L 770,185 Z" fill="#fff" stroke="#000" stroke-width="2.6" stroke-linejoin="round" stroke-linecap="round" vector-effect="non-scaling-stroke"/><path d="M 790,92 L 1118,300 L 1096,468 L 1000,520" fill="none" stroke="#000" stroke-width="1.1" stroke-linejoin="round" stroke-linecap="round" vector-effect="non-scaling-stroke"/><path d="M 760,250 L 1050,440 M 752,268 L 1045,458" fill="none" stroke="#000" stroke-width="1.1" stroke-linejoin="round" stroke-linecap="round" vector-effect="non-scaling-stroke"/><path d="M 1000,520 L 1000,540" fill="none" stroke="#000" stroke-width="1.1" stroke-linejoin="round" stroke-linecap="round" vector-effect="non-scaling-stroke"/><ellipse cx="828" cy="200" rx="18" ry="28" fill="none" stroke="#000" stroke-width="1.6" stroke-linejoin="round" stroke-linecap="round" vector-effect="non-scaling-stroke"/><ellipse cx="1025" cy="330" rx="18" ry="28" fill="none" stroke="#000" stroke-width="1.6" stroke-linejoin="round" stroke-linecap="round" vector-effect="non-scaling-stroke"/><ellipse cx="705" cy="455" rx="50" ry="30" fill="none" stroke="#000" stroke-width="1.6" stroke-linejoin="round" stroke-linecap="round" vector-effect="non-scaling-stroke"/><ellipse cx="705" cy="462" rx="40" ry="20" fill="none" stroke="#000" stroke-width="1.0" stroke-linejoin="round" stroke-linecap="round" vector-effect="non-scaling-stroke"/></g>
<g transform="translate(232.5,1671) rotate(-22) scale(1.12)"><path d="M 0,-4.2 L 30,-4.2 Q 33,0 30,4.2 L 0,4.2 Z" fill="#fff" stroke="#000" stroke-width="1.4" stroke-linejoin="round" stroke-linecap="round"/><path d="M 3.00,-4.20 L 4.50,4.20" fill="none" stroke="#000" stroke-width="0.9" stroke-linejoin="round" stroke-linecap="round"/><path d="M 5.50,-4.20 L 7.00,4.20" fill="none" stroke="#000" stroke-width="0.9" stroke-linejoin="round" stroke-linecap="round"/><path d="M 8.00,-4.20 L 9.50,4.20" fill="none" stroke="#000" stroke-width="0.9" stroke-linejoin="round" stroke-linecap="round"/><path d="M 10.50,-4.20 L 12.00,4.20" fill="none" stroke="#000" stroke-width="0.9" stroke-linejoin="round" stroke-linecap="round"/><path d="M 13.00,-4.20 L 14.50,4.20" fill="none" stroke="#000" stroke-width="0.9" stroke-linejoin="round" stroke-linecap="round"/><path d="M 15.50,-4.20 L 17.00,4.20" fill="none" stroke="#000" stroke-width="0.9" stroke-linejoin="round" stroke-linecap="round"/><path d="M 18.00,-4.20 L 19.50,4.20" fill="none" stroke="#000" stroke-width="0.9" stroke-linejoin="round" stroke-linecap="round"/><path d="M 20.50,-4.20 L 22.00,4.20" fill="none" stroke="#000" stroke-width="0.9" stroke-linejoin="round" stroke-linecap="round"/><path d="M 23.00,-4.20 L 24.50,4.20" fill="none" stroke="#000" stroke-width="0.9" stroke-linejoin="round" stroke-linecap="round"/><path d="M 25.50,-4.20 L 27.00,4.20" fill="none" stroke="#000" stroke-width="0.9" stroke-linejoin="round" stroke-linecap="round"/><path d="M 28.00,-4.20 L 29.50,4.20" fill="none" stroke="#000" stroke-width="0.9" stroke-linejoin="round" stroke-linecap="round"/><path d="M -9,-8.5 L 0,-7.5 L 1.5,0 L 0,7.5 L -9,8.5 Q -15,0 -9,-8.5 Z" fill="#fff" stroke="#000" stroke-width="1.8" stroke-linejoin="round" stroke-linecap="round"/><path d="M -9.00,-8.50 L -4.00,0.00 L -9.00,8.50" fill="none" stroke="#000" stroke-width="0.9" stroke-linejoin="round" stroke-linecap="round"/><path d="M -4.00,0.00 L 1.50,0.00" fill="none" stroke="#000" stroke-width="0.8" stroke-linejoin="round" stroke-linecap="round"/></g>
<path d="M 266.00,1657.50 L 335.20,1623.40 L 395.40,1591.60" fill="none" stroke="#000" stroke-width="1.0" stroke-linejoin="round" stroke-linecap="round"/>
<path d="M 358.20,1706.00 L 358.20,1716.00 A 12.90,5.50 0 0 0 384.00,1716.00 L 384.00,1706.00 A 12.90,5.50 0 0 0 358.20,1706.00 Z" fill="#fff" stroke="#000" stroke-width="1.9" stroke-linejoin="round" stroke-linecap="round"/><path d="M 359.10,1707.92 L 365.30,1710.67 L 376.91,1710.67 L 383.10,1707.92" fill="none" stroke="#000" stroke-width="0.9" stroke-linejoin="round" stroke-linecap="round"/><path d="M 365.30,1710.67 L 365.30,1720.67" fill="none" stroke="#000" stroke-width="0.9" stroke-linejoin="round" stroke-linecap="round"/><path d="M 376.91,1710.67 L 376.91,1720.67" fill="none" stroke="#000" stroke-width="0.9" stroke-linejoin="round" stroke-linecap="round"/><ellipse cx="371.10" cy="1705.72" rx="6.19" ry="3.03" fill="none" stroke="#000" stroke-width="1.71" stroke-linejoin="round" stroke-linecap="round"/><ellipse cx="371.10" cy="1705.72" rx="3.23" ry="1.54" fill="none" stroke="#000" stroke-width="0.8" stroke-linejoin="round" stroke-linecap="round"/>
<path d="M 744.70,1630.30 L 744.70,1634.30 A 12.80,5.60 0 0 0 770.30,1634.30 L 770.30,1630.30 A 12.80,5.60 0 0 0 744.70,1630.30 Z" fill="#fff" stroke="#000" stroke-width="1.9" stroke-linejoin="round" stroke-linecap="round"/><path d="M 744.70,1630.30 A 12.80,5.60 0 0 0 770.30,1630.30" fill="none" stroke="#000" stroke-width="0.9" stroke-linejoin="round" stroke-linecap="round"/><ellipse cx="757.50" cy="1630.30" rx="6.40" ry="2.40" fill="#fff" stroke="#000" stroke-width="1.71" stroke-linejoin="round" stroke-linecap="round"/>
<path d="M 745.40,1651.00 L 745.40,1663.50 A 11.90,5.00 0 0 0 769.20,1663.50 L 769.20,1651.00 A 11.90,5.00 0 0 0 745.40,1651.00 Z" fill="#fff" stroke="#000" stroke-width="1.9" stroke-linejoin="round" stroke-linecap="round"/><ellipse cx="757.30" cy="1651.00" rx="11.90" ry="5.00" fill="none" stroke="#000" stroke-width="1.9" stroke-linejoin="round" stroke-linecap="round"/><ellipse cx="757.30" cy="1651.30" rx="6.55" ry="2.75" fill="none" stroke="#000" stroke-width="1.2" stroke-linejoin="round" stroke-linecap="round"/><ellipse cx="757.30" cy="1651.30" rx="4.17" ry="1.75" fill="none" stroke="#000" stroke-width="0.9" stroke-linejoin="round" stroke-linecap="round"/><path d="M 746.59,1655.50 L 757.30,1659.00 L 768.01,1655.50" fill="none" stroke="#000" stroke-width="1.0" stroke-linejoin="round" stroke-linecap="round"/><path d="M 757.30,1659.00 L 757.30,1668.50" fill="none" stroke="#000" stroke-width="1.0" stroke-linejoin="round" stroke-linecap="round"/>
<path d="M 685.80,1675.00 L 685.80,1683.60 A 9.40,4.40 0 0 0 704.60,1683.60 L 704.60,1675.00 A 9.40,4.40 0 0 0 685.80,1675.00 Z" fill="#fff" stroke="#000" stroke-width="1.9" stroke-linejoin="round" stroke-linecap="round"/><ellipse cx="695.20" cy="1675.00" rx="9.40" ry="4.40" fill="none" stroke="#000" stroke-width="1.9" stroke-linejoin="round" stroke-linecap="round"/><ellipse cx="695.20" cy="1675.30" rx="5.17" ry="2.42" fill="none" stroke="#000" stroke-width="1.2" stroke-linejoin="round" stroke-linecap="round"/><ellipse cx="695.20" cy="1675.30" rx="3.29" ry="1.54" fill="none" stroke="#000" stroke-width="0.9" stroke-linejoin="round" stroke-linecap="round"/><path d="M 686.74,1678.96 L 695.20,1682.04 L 703.66,1678.96" fill="none" stroke="#000" stroke-width="1.0" stroke-linejoin="round" stroke-linecap="round"/><path d="M 695.20,1682.04 L 695.20,1688.00" fill="none" stroke="#000" stroke-width="1.0" stroke-linejoin="round" stroke-linecap="round"/>
<g transform="translate(670,1600) scale(0.097720)"><path d="M 222,960 Q 268,940 315,960 L 318,1290 Q 345,1330 350,1395 L 355,1480 L 330,1500 L 272,1470 L 270,1362 L 240,1362 L 232,1440 L 188,1420 L 190,1330 L 220,1290 Z" fill="#fff" stroke="#000" stroke-width="1.8" stroke-linejoin="round" stroke-linecap="round" vector-effect="non-scaling-stroke"/><path d="M 222,1150 L 315,1150" fill="none" stroke="#000" stroke-width="1.1" stroke-linejoin="round" stroke-linecap="round" vector-effect="non-scaling-stroke"/><path d="M 232,1002 L 305,990" fill="none" stroke="#000" stroke-width="1.0" stroke-linejoin="round" stroke-linecap="round" vector-effect="non-scaling-stroke"/><path d="M 232,1027 L 305,1015" fill="none" stroke="#000" stroke-width="1.0" stroke-linejoin="round" stroke-linecap="round" vector-effect="non-scaling-stroke"/><path d="M 232,1052 L 305,1040" fill="none" stroke="#000" stroke-width="1.0" stroke-linejoin="round" stroke-linecap="round" vector-effect="non-scaling-stroke"/><path d="M 232,1077 L 305,1065" fill="none" stroke="#000" stroke-width="1.0" stroke-linejoin="round" stroke-linecap="round" vector-effect="non-scaling-stroke"/><path d="M 232,1102 L 305,1090" fill="none" stroke="#000" stroke-width="1.0" stroke-linejoin="round" stroke-linecap="round" vector-effect="non-scaling-stroke"/><path d="M 232,1127 L 305,1115" fill="none" stroke="#000" stroke-width="1.0" stroke-linejoin="round" stroke-linecap="round" vector-effect="non-scaling-stroke"/><path d="M 232,1152 L 305,1140" fill="none" stroke="#000" stroke-width="1.0" stroke-linejoin="round" stroke-linecap="round" vector-effect="non-scaling-stroke"/><path d="M 280,1320 L 320,1440" fill="none" stroke="#000" stroke-width="0.9" stroke-linejoin="round" stroke-linecap="round" vector-effect="non-scaling-stroke"/></g><path d="M 930.5,1157 L 930.5,1174" stroke="#3c3c3c" stroke-width="1" fill="none"/><path d="M 930.5,1199 L 930.5,1207" stroke="#3c3c3c" stroke-width="1" fill="none"/><path d="M 930.5,1231 L 930.5,1250" stroke="#3c3c3c" stroke-width="1" fill="none"/><path d="M 974.5,283 L 974.5,290" stroke="#3c3c3c" stroke-width="1" fill="none"/><path d="M 974.5,315 L 974.5,322" stroke="#3c3c3c" stroke-width="1" fill="none"/><path d="M 974.5,343 L 974.5,352" stroke="#3c3c3c" stroke-width="1" fill="none"/><path d="M 974.5,377 L 974.5,387" stroke="#3c3c3c" stroke-width="1" fill="none"/><path d="M 974.5,418 L 974.5,437" stroke="#3c3c3c" stroke-width="1" fill="none"/><path d="M 974.5,488 L 974.5,495" stroke="#3c3c3c" stroke-width="1" fill="none"/><path d="M 745.5,388 L 745.5,398" stroke="#3c3c3c" stroke-width="1" fill="none"/>
<g fill="#fff">
<rect x="554.2" y="78.7" width="117.9" height="19"/>
<rect x="985.5" y="39.4" width="117.9" height="19"/>
<rect x="874.6" y="66.0" width="117.9" height="19"/>
<rect x="441.7" y="206.0" width="117.9" height="19"/>
<rect x="387.9" y="279.0" width="117.9" height="19"/>
<rect x="361.0" y="298.1" width="117.9" height="19"/>
<rect x="310.7" y="317.2" width="117.9" height="19"/>
<rect x="248.6" y="340.4" width="117.9" height="19"/>
<rect x="190.0" y="364.3" width="125.6" height="19"/>
<rect x="134.0" y="384.4" width="125.6" height="19"/>
<rect x="81.5" y="402.7" width="117.9" height="19"/>
<rect x="56.3" y="424.7" width="117.9" height="19"/>
<rect x="570.1" y="396.6" width="117.9" height="19"/>
<rect x="574.6" y="445.8" width="117.9" height="19"/>
<rect x="579.1" y="482.4" width="117.9" height="19"/>
<rect x="667.7" y="528.4" width="117.9" height="19"/>
<rect x="842.5" y="467.8" width="117.9" height="19"/>
<rect x="1016.7" y="283.2" width="133.3" height="19"/>
<rect x="1018.5" y="311.3" width="131.8" height="19"/>
<rect x="1021.3" y="340.5" width="133.3" height="19"/>
<rect x="1024.5" y="379.3" width="133.3" height="19"/>
<rect x="1019.9" y="433.9" width="133.3" height="19"/>
<rect x="1019.5" y="500.8" width="133.3" height="19"/>
<rect x="1023.2" y="557.4" width="133.3" height="19"/>
<rect x="1011.8" y="658.3" width="133.3" height="19"/>
<rect x="1006.6" y="701.6" width="133.3" height="19"/>
<rect x="262.1" y="725.2" width="212.3" height="19"/>
<rect x="947.9" y="761.2" width="196.9" height="19"/>
<rect x="276.9" y="768.9" width="148.7" height="19"/>
<rect x="315.0" y="792.4" width="147.2" height="19"/>
<rect x="342.6" y="817.5" width="148.7" height="19"/>
<rect x="637.2" y="760.4" width="117.9" height="19"/>
<rect x="639.1" y="798.5" width="147.2" height="19"/>
<rect x="641.8" y="821.6" width="148.7" height="19"/>
<rect x="640.4" y="849.1" width="147.2" height="19"/>
<rect x="678.0" y="871.9" width="148.7" height="19"/>
<rect x="970.8" y="798.0" width="117.9" height="19"/>
<rect x="806.4" y="903.5" width="158.5" height="19"/>
<rect x="835.7" y="932.8" width="117.9" height="19"/>
<rect x="208.1" y="1004.6" width="117.9" height="19"/>
<rect x="213.0" y="1040.4" width="117.9" height="19"/>
<rect x="260.7" y="1065.1" width="117.9" height="19"/>
<rect x="562.3" y="1006.3" width="117.9" height="19"/>
<rect x="572.6" y="1039.0" width="117.9" height="19"/>
<rect x="856.9" y="1037.3" width="117.9" height="19"/>
<rect x="859.1" y="1105.4" width="117.9" height="19"/>
<rect x="949.7" y="1133.5" width="204.6" height="19"/>
<rect x="163.1" y="1109.3" width="117.9" height="19"/>
<rect x="207.8" y="1131.0" width="117.9" height="19"/>
<rect x="181.3" y="1176.4" width="117.9" height="19"/>
<rect x="983.3" y="1169.3" width="141.0" height="19"/>
<rect x="981.7" y="1195.5" width="139.5" height="19"/>
<rect x="1005.2" y="1238.8" width="141.0" height="19"/>
<rect x="988.1" y="1302.7" width="141.0" height="19"/>
<rect x="64.9" y="1220.9" width="117.9" height="19"/>
<rect x="63.1" y="1258.6" width="117.9" height="19"/>
<rect x="62.3" y="1287.8" width="117.9" height="19"/>
<rect x="972.2" y="1376.9" width="117.9" height="19"/>
<rect x="970.1" y="1465.1" width="117.9" height="19"/>
<rect x="116.0" y="1419.5" width="189.2" height="19"/>
<rect x="202.0" y="1469.0" width="9.2" height="19"/>
<rect x="169.2" y="1602.0" width="117.9" height="19"/>
<rect x="57.8" y="1648.5" width="158.5" height="19"/>
<rect x="399.6" y="1703.4" width="117.9" height="19"/>
<rect x="807.0" y="1623.3" width="157.1" height="19"/>
<rect x="805.5" y="1646.8" width="158.5" height="19"/>
<rect x="742.0" y="1671.2" width="117.9" height="19"/>
<rect x="724.9" y="1702.2" width="117.9" height="19"/>
</g>
<g font-size="19.75">
<text x="555.2" y="95.2">738 21 10-04</text>
<text x="986.5" y="55.9">731 23 20-51</text>
<text x="875.6" y="82.5">506 57 61-03</text>
<text x="442.7" y="222.5">506 98 58-02</text>
<text x="388.9" y="295.5">735 31 26-00</text>
<text x="362.0" y="314.6">506 77 34-01</text>
<text x="311.7" y="333.7">506 98 59-01</text>
<text x="249.6" y="356.9">740 68 14-21</text>
<text x="191.0" y="380.8">*506 98 61-01</text>
<text x="135.0" y="400.9">*506 98 61-02</text>
<text x="82.5" y="419.2">506 77 34-01</text>
<text x="57.3" y="441.2">735 31 26-00</text>
<text x="571.1" y="413.1">738 21 05-04</text>
<text x="575.6" y="462.3">735 31 40-10</text>
<text x="580.1" y="498.9">735 31 26-00</text>
<text x="668.7" y="544.9">735 31 26-00</text>
<text x="843.5" y="484.3">731 23 20-51</text>
<text x="1017.7" y="299.7">732 21 18-01**</text>
<text x="1019.5" y="327.8">734 11 64-41**</text>
<text x="1022.3" y="357.0">735 31 38-10**</text>
<text x="1025.5" y="395.8">738 21 04-04**</text>
<text x="1020.9" y="450.4">506 56 38-01**</text>
<text x="1020.5" y="517.3">506 54 35-01**</text>
<text x="1024.2" y="573.9">506 59 50-01**</text>
<text x="1012.8" y="674.8">725 24 59-51**</text>
<text x="1007.6" y="718.1">738 88 10-01**</text>
<text x="263.1" y="741.7"><tspan font-weight='bold'>****compl</tspan> 506 98 78-01</text>
<text x="948.9" y="777.7"><tspan font-weight='bold'>**compl</tspan> 506 59 51-01</text>
<text x="277.9" y="785.4">****723 12 28-01</text>
<text x="316.0" y="808.9">****734 11 24-01</text>
<text x="343.6" y="834.0">****535 03 25-01</text>
<text x="638.2" y="776.9">725 23 68-51</text>
<text x="640.1" y="815.0">734 11 53-41****</text>
<text x="642.8" y="838.1">506 98 79-01****</text>
<text x="641.4" y="865.6">734 11 24-01****</text>
<text x="679.0" y="888.4">731 23 10-01****</text>
<text x="971.8" y="814.5">506 66 56-01</text>
<text x="807.4" y="920.0">725 24 67-51 <tspan font-weight='bold'>(x4)</tspan></text>
<text x="836.7" y="949.3">725 24 67-51</text>
<text x="209.1" y="1021.1">506 98 74-01</text>
<text x="214.0" y="1056.9">732 21 14-01</text>
<text x="261.7" y="1081.6">732 21 14-01</text>
<text x="563.3" y="1022.8">725 24 51-51</text>
<text x="573.6" y="1055.5">506 91 87-02</text>
<text x="857.9" y="1053.8">725 24 51-51</text>
<text x="860.1" y="1121.9">506 91 87-02</text>
<text x="950.7" y="1150.0"><tspan font-weight='bold'>***compl</tspan> 506 98 84-01</text>
<text x="164.1" y="1125.8">725 24 62-51</text>
<text x="208.8" y="1147.5">725 24 59-51</text>
<text x="182.3" y="1192.9">506 98 72-01</text>
<text x="984.3" y="1185.8">732 21 18-01***</text>
<text x="982.7" y="1212.0">734 11 64-41***</text>
<text x="1006.2" y="1255.3">506 94 69-01***</text>
<text x="989.1" y="1319.2">506 98 85-01***</text>
<text x="65.9" y="1237.4">725 23 64-61</text>
<text x="64.1" y="1275.1">506 56 65-01</text>
<text x="63.3" y="1304.3">506 98 77-01</text>
<text x="973.2" y="1393.4">506 98 86-01</text>
<text x="971.1" y="1481.6">725 24 55-51</text>
<text x="117.0" y="1436.0"><tspan font-weight='bold'>*compl</tspan> 535 40 60-02</text>
<text x="203.0" y="1485.5">*</text>
<text x="170.2" y="1618.5">506 88 99-01</text>
<text x="58.8" y="1665.0">725 24 93-71 <tspan font-weight='bold'>(x2)</tspan></text>
<text x="400.6" y="1719.9">731 23 18-01</text>
<text x="808.0" y="1639.8">734 11 64-01 <tspan font-weight='bold'>(x4)</tspan></text>
<text x="806.5" y="1663.3">731 23 18-01 <tspan font-weight='bold'>(x4)</tspan></text>
<text x="743.0" y="1687.7">731 23 20-01</text>
<text x="725.9" y="1718.7">506 98 88-01</text>
</g>
<path d="M 80,55 L 87.9,55 L 87.9,82 Q 87.9,94 75.8,94 Q 63.7,94 63.7,82 L 63.7,78.8 L 71,78.8 L 71,81.5 Q 71,87.9 75.8,87.9 Q 80,87.9 80,82 Z" fill="#000"/>
<rect x="852" y="1704" width="122.5" height="28.5" fill="none" stroke="#000" stroke-width="1.2"/>
<text x="855" y="1724" font-size="19.4" font-weight="bold">xxx xx xx-xx</text>
<text x="981" y="1727" font-size="20" font-weight="bold">=</text>
<text x="1013.5" y="1665.5" font-size="19.5" font-weight="bold">New part,</text>
<text x="1013.5" y="1684.9" font-size="19.5" font-weight="bold">Neues teil,</text>
<text x="1013.5" y="1704.2" font-size="19.5" font-weight="bold">Nouvelle piece,</text>
<text x="1013.5" y="1723.6" font-size="19.5" font-weight="bold">Nueva pieza,</text>
<text x="1013.5" y="1743" font-size="19.5" font-weight="bold">Ny detalj</text>
<text x="1068" y="1785" font-size="38" letter-spacing="1.1" style="font-family:'Liberation Serif',serif"><tspan fill="#4a6cb8">m</tspan><tspan fill="#3faa3f">o</tspan><tspan fill="#e070a8">t</tspan><tspan fill="#2a9a3a">o</tspan><tspan fill="#e0501a">r</tspan><tspan fill="#f09020">u</tspan><tspan fill="#f0c020">f</tspan><tspan fill="#333322" font-size="17.5" letter-spacing="0" dx="-1.3">.de</tspan></text>
</svg></body></html>
